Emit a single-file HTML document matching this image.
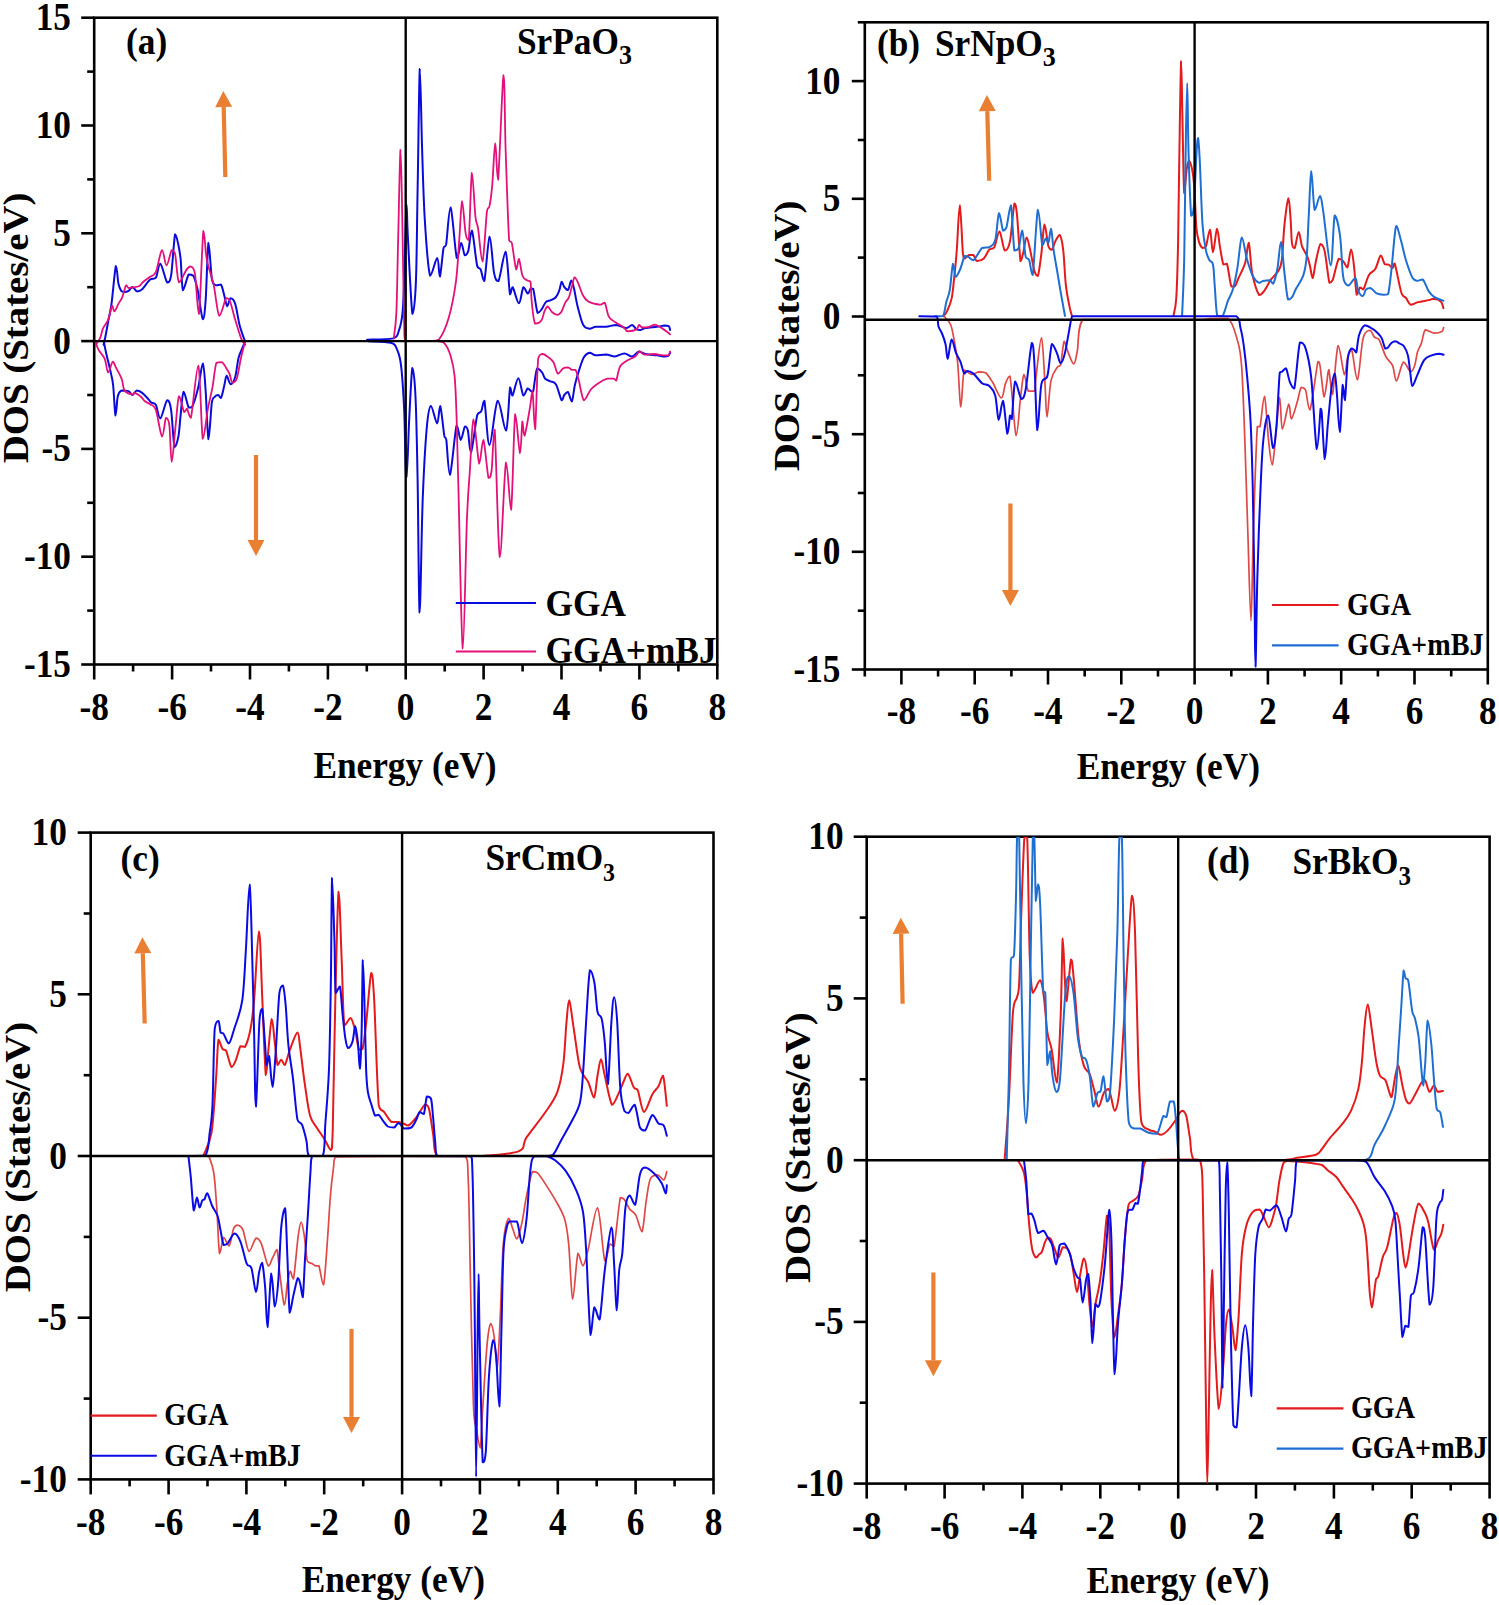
<!DOCTYPE html><html><head><meta charset="utf-8"><style>html,body{margin:0;padding:0;background:#fff;}svg{display:block;}text{font-family:"Liberation Serif",serif;font-weight:bold;fill:#000;}</style></head><body>
<svg width="1499" height="1605" viewBox="0 0 1499 1605">
<rect width="1499" height="1605" fill="#fff"/>
<rect x="94.2" y="17.7" width="623.1" height="646.8" fill="none" stroke="#000" stroke-width="2.60"/>
<line x1="94.2" y1="664.5" x2="94.2" y2="679.5" stroke="#000" stroke-width="2.60"/>
<line x1="172.1" y1="664.5" x2="172.1" y2="679.5" stroke="#000" stroke-width="2.60"/>
<line x1="250.0" y1="664.5" x2="250.0" y2="679.5" stroke="#000" stroke-width="2.60"/>
<line x1="327.9" y1="664.5" x2="327.9" y2="679.5" stroke="#000" stroke-width="2.60"/>
<line x1="405.7" y1="664.5" x2="405.7" y2="679.5" stroke="#000" stroke-width="2.60"/>
<line x1="483.6" y1="664.5" x2="483.6" y2="679.5" stroke="#000" stroke-width="2.60"/>
<line x1="561.5" y1="664.5" x2="561.5" y2="679.5" stroke="#000" stroke-width="2.60"/>
<line x1="639.4" y1="664.5" x2="639.4" y2="679.5" stroke="#000" stroke-width="2.60"/>
<line x1="717.3" y1="664.5" x2="717.3" y2="679.5" stroke="#000" stroke-width="2.60"/>
<line x1="133.1" y1="664.5" x2="133.1" y2="671.5" stroke="#000" stroke-width="2.60"/>
<line x1="211.0" y1="664.5" x2="211.0" y2="671.5" stroke="#000" stroke-width="2.60"/>
<line x1="288.9" y1="664.5" x2="288.9" y2="671.5" stroke="#000" stroke-width="2.60"/>
<line x1="366.8" y1="664.5" x2="366.8" y2="671.5" stroke="#000" stroke-width="2.60"/>
<line x1="444.7" y1="664.5" x2="444.7" y2="671.5" stroke="#000" stroke-width="2.60"/>
<line x1="522.6" y1="664.5" x2="522.6" y2="671.5" stroke="#000" stroke-width="2.60"/>
<line x1="600.5" y1="664.5" x2="600.5" y2="671.5" stroke="#000" stroke-width="2.60"/>
<line x1="678.4" y1="664.5" x2="678.4" y2="671.5" stroke="#000" stroke-width="2.60"/>
<line x1="81.2" y1="664.5" x2="94.2" y2="664.5" stroke="#000" stroke-width="2.60"/>
<line x1="81.2" y1="556.7" x2="94.2" y2="556.7" stroke="#000" stroke-width="2.60"/>
<line x1="81.2" y1="448.9" x2="94.2" y2="448.9" stroke="#000" stroke-width="2.60"/>
<line x1="81.2" y1="341.1" x2="94.2" y2="341.1" stroke="#000" stroke-width="2.60"/>
<line x1="81.2" y1="233.3" x2="94.2" y2="233.3" stroke="#000" stroke-width="2.60"/>
<line x1="81.2" y1="125.5" x2="94.2" y2="125.5" stroke="#000" stroke-width="2.60"/>
<line x1="81.2" y1="17.7" x2="94.2" y2="17.7" stroke="#000" stroke-width="2.60"/>
<line x1="87.2" y1="610.6" x2="94.2" y2="610.6" stroke="#000" stroke-width="2.60"/>
<line x1="87.2" y1="502.8" x2="94.2" y2="502.8" stroke="#000" stroke-width="2.60"/>
<line x1="87.2" y1="395.0" x2="94.2" y2="395.0" stroke="#000" stroke-width="2.60"/>
<line x1="87.2" y1="287.2" x2="94.2" y2="287.2" stroke="#000" stroke-width="2.60"/>
<line x1="87.2" y1="179.4" x2="94.2" y2="179.4" stroke="#000" stroke-width="2.60"/>
<line x1="87.2" y1="71.6" x2="94.2" y2="71.6" stroke="#000" stroke-width="2.60"/>
<text x="94.2" y="0" transform="translate(0,719.5) scale(1,1.160)" text-anchor="middle" font-size="35.3" >-8</text>
<text x="172.1" y="0" transform="translate(0,719.5) scale(1,1.160)" text-anchor="middle" font-size="35.3" >-6</text>
<text x="250.0" y="0" transform="translate(0,719.5) scale(1,1.160)" text-anchor="middle" font-size="35.3" >-4</text>
<text x="327.9" y="0" transform="translate(0,719.5) scale(1,1.160)" text-anchor="middle" font-size="35.3" >-2</text>
<text x="405.7" y="0" transform="translate(0,719.5) scale(1,1.160)" text-anchor="middle" font-size="35.3" >0</text>
<text x="483.6" y="0" transform="translate(0,719.5) scale(1,1.160)" text-anchor="middle" font-size="35.3" >2</text>
<text x="561.5" y="0" transform="translate(0,719.5) scale(1,1.160)" text-anchor="middle" font-size="35.3" >4</text>
<text x="639.4" y="0" transform="translate(0,719.5) scale(1,1.160)" text-anchor="middle" font-size="35.3" >6</text>
<text x="717.3" y="0" transform="translate(0,719.5) scale(1,1.160)" text-anchor="middle" font-size="35.3" >8</text>
<text x="71.0" y="0" transform="translate(0,677.0) scale(1,1.160)" text-anchor="end" font-size="35.3" >-15</text>
<text x="71.0" y="0" transform="translate(0,569.2) scale(1,1.160)" text-anchor="end" font-size="35.3" >-10</text>
<text x="71.0" y="0" transform="translate(0,461.4) scale(1,1.160)" text-anchor="end" font-size="35.3" >-5</text>
<text x="71.0" y="0" transform="translate(0,353.6) scale(1,1.160)" text-anchor="end" font-size="35.3" >0</text>
<text x="71.0" y="0" transform="translate(0,245.8) scale(1,1.160)" text-anchor="end" font-size="35.3" >5</text>
<text x="71.0" y="0" transform="translate(0,138.0) scale(1,1.160)" text-anchor="end" font-size="35.3" >10</text>
<text x="71.0" y="0" transform="translate(0,30.2) scale(1,1.160)" text-anchor="end" font-size="35.3" >15</text>
<text x="405.0" y="0" transform="translate(0,777.6) scale(1,1.080)" text-anchor="middle" font-size="35.3" >Energy (eV)</text>
<g transform="translate(27.8,327.9)  rotate(-90)"><text x="0" y="0" transform="scale(1.100,1)" text-anchor="middle" font-size="35.3">DOS (States/eV)</text></g>
<path d="M103.6,344.7 C103.8,343.9 104.0,344.0 104.7,340.2 C105.5,336.4 107.0,328.1 108.1,322.0 C109.2,315.9 110.2,313.2 111.5,303.9 C112.8,294.5 114.8,269.3 115.9,265.9 C117.1,265.9 117.5,279.3 118.4,283.5 C119.3,287.7 120.3,289.5 121.2,290.9 C122.1,292.0 122.8,292.0 124.0,292.0 C125.2,292.0 127.2,291.8 128.6,290.9 C130.0,290.0 131.1,286.9 132.5,286.9 C133.9,287.0 135.5,291.0 137.1,291.4 C138.7,291.4 140.0,291.2 142.2,289.2 C144.4,287.2 147.8,281.4 150.1,279.5 C152.4,277.8 154.1,279.5 155.8,277.8 C157.5,275.2 158.4,263.7 160.3,263.7 C162.2,264.5 165.3,280.4 167.1,282.4 C168.9,282.4 169.8,282.4 171.1,275.6 C172.4,267.6 173.9,239.2 175.1,234.2 C176.3,234.2 177.6,241.2 178.5,245.5 C179.4,249.8 179.9,252.2 180.7,259.7 C181.4,267.2 181.7,287.9 183.0,290.3 C184.3,290.3 187.0,276.8 188.7,274.4 C190.4,274.4 191.7,274.4 193.2,275.6 C194.7,278.2 196.1,283.0 197.7,290.3 C199.3,297.6 201.5,317.7 202.8,319.2 C204.1,319.2 204.8,312.1 205.7,299.4 C206.6,286.6 207.5,246.1 208.5,242.7 C209.5,242.7 210.7,271.9 211.9,279.0 C213.1,285.2 214.4,284.3 215.9,285.2 C217.4,285.2 219.6,284.6 221.0,284.6 C222.4,286.4 223.4,292.4 224.4,296.0 C225.4,299.6 226.2,305.8 227.2,306.2 C228.2,306.2 229.3,298.6 230.6,298.2 C231.9,298.2 233.7,299.3 235.2,303.9 C236.7,308.4 238.1,319.4 239.7,325.5 C241.3,331.6 243.9,338.2 244.8,340.8 C245.4,341.1 245.3,341.1 245.4,341.1" fill="none" stroke="#0A0ADC" stroke-width="2.00" stroke-linejoin="round" stroke-linecap="round"/>
<path d="M103.6,340.7 C104.0,342.6 104.7,346.5 105.9,352.0 C107.1,357.5 109.8,367.9 111.0,373.6 C112.2,379.3 112.5,379.0 113.2,386.0 C114.0,393.0 114.7,413.8 115.5,415.5 C116.3,415.5 116.8,400.3 117.8,396.2 C118.8,392.1 119.4,391.5 121.2,390.6 C123.0,390.6 126.7,390.6 128.6,391.1 C130.5,391.9 131.2,395.1 132.5,395.1 C133.8,395.0 134.9,391.0 136.5,390.6 C138.1,390.6 140.3,391.5 142.2,392.8 C144.1,394.1 146.3,396.9 147.8,398.5 C149.3,400.1 149.9,401.5 151.2,402.5 C152.5,403.5 154.3,402.5 155.8,404.7 C157.3,407.3 158.4,418.4 160.3,418.4 C162.2,417.6 165.3,401.6 167.1,400.2 C168.9,400.2 169.9,401.9 171.1,409.8 C172.3,417.7 173.3,443.0 174.5,447.3 C175.7,447.3 177.5,441.4 178.5,435.9 C179.5,430.4 179.8,421.8 180.7,414.4 C181.5,407.0 182.3,392.8 183.6,391.7 C184.9,391.7 187.3,405.1 188.7,407.6 C190.1,407.6 190.5,407.6 192.1,407.0 C193.7,403.6 196.5,394.5 198.3,387.2 C200.1,379.9 201.6,363.4 202.8,363.4 C204.0,364.1 204.8,379.0 205.7,391.7 C206.6,404.4 207.5,437.6 208.5,439.3 C209.5,439.3 210.9,409.0 211.9,401.9 C212.9,396.8 213.7,397.9 214.7,396.8 C215.7,395.7 217.0,395.1 218.1,395.1 C219.2,395.3 219.9,397.9 221.0,397.9 C222.1,396.2 223.5,388.6 224.4,384.9 C225.3,381.2 225.7,375.9 226.7,375.8 C227.7,375.8 229.2,384.1 230.6,384.3 C232.0,384.3 233.9,381.4 235.2,377.0 C236.5,372.6 237.3,362.8 238.6,357.7 C239.9,352.6 242.0,349.1 243.1,346.3 C244.2,343.5 245.0,341.6 245.4,340.7" fill="none" stroke="#0A0ADC" stroke-width="2.00" stroke-linejoin="round" stroke-linecap="round"/>
<path d="M367.1,339.7 C371.4,339.5 387.5,339.7 392.8,338.4 C398.1,336.8 397.5,334.3 399.1,329.9 C400.7,325.5 401.7,321.6 402.6,312.1 C403.5,302.6 403.8,291.0 404.4,273.1 C405.0,255.2 405.9,210.6 406.5,204.7 C407.1,204.7 406.9,219.4 407.9,237.6 C408.9,255.8 411.1,306.5 412.4,313.9 C413.7,313.9 415.0,303.5 415.9,281.9 C416.8,260.3 417.0,219.8 417.7,184.3 C418.4,148.8 419.1,74.8 419.8,68.9 C420.5,68.9 421.3,123.7 422.1,148.8 C422.9,174.0 423.5,198.7 424.8,219.8 C426.1,241.0 428.0,269.3 430.1,275.7 C432.2,275.7 435.6,258.0 437.2,258.0 C438.8,258.1 438.8,276.6 439.9,276.6 C440.9,275.0 442.5,253.5 443.5,248.2 C444.5,244.7 444.9,248.2 446.1,244.7 C447.3,237.9 448.8,207.4 450.6,207.4 C452.4,209.6 455.0,252.1 456.8,258.0 C458.6,258.0 459.9,243.3 461.2,242.9 C462.5,242.9 463.6,254.0 464.8,255.3 C466.0,255.3 467.1,255.0 468.3,250.9 C469.5,246.8 470.4,230.5 471.9,230.5 C473.4,233.0 475.7,259.5 477.2,266.0 C478.7,269.5 479.5,267.0 480.7,269.5 C481.9,272.0 482.8,281.1 484.3,281.1 C485.8,275.6 488.0,238.0 489.6,236.7 C491.2,236.7 492.6,265.7 494.1,273.1 C495.6,280.5 496.6,281.1 498.5,281.1 C500.4,277.6 503.7,251.8 505.6,251.8 C507.5,254.0 508.8,288.5 510.0,294.4 C511.2,294.4 511.2,287.3 512.7,287.3 C514.2,288.8 517.1,303.3 518.9,303.3 C520.7,303.3 521.9,288.9 523.4,287.3 C524.9,287.3 526.6,293.2 527.8,293.5 C529.0,293.5 529.7,289.6 530.6,288.8 C531.5,288.8 532.0,288.8 533.2,288.8 C534.4,292.8 536.2,309.4 537.6,312.9 C539.0,312.9 540.0,311.5 541.4,309.7 C542.8,307.9 544.2,303.7 545.8,302.1 C547.4,300.5 549.2,301.1 550.9,300.2 C552.6,299.3 554.6,298.6 556.0,297.0 C557.4,295.4 558.2,293.2 559.2,290.7 C560.2,288.2 560.9,282.4 561.7,281.8 C562.5,281.8 563.2,285.5 564.2,286.9 C565.2,288.3 566.8,290.1 568.0,290.1 C569.2,289.1 570.2,281.1 571.2,280.6 C572.2,280.6 572.7,282.7 573.7,286.9 C574.8,291.1 575.9,299.6 577.5,305.9 C579.1,312.2 581.2,321.1 583.2,324.9 C585.2,328.7 587.5,328.4 589.6,328.7 C591.7,328.7 593.1,327.1 595.9,326.8 C598.6,326.8 602.7,326.8 606.1,326.8 C609.5,326.5 612.8,324.9 616.2,324.9 C619.6,325.1 623.7,328.1 626.3,328.1 C628.9,328.1 630.3,324.9 632.0,324.9 C633.7,325.1 635.1,328.5 636.5,329.4 C637.9,330.0 638.8,330.0 640.3,330.0 C641.8,329.8 642.6,328.6 645.4,328.1 C648.1,327.6 653.6,327.2 656.8,326.8 C660.0,326.4 662.4,325.7 664.4,325.6 C666.4,325.6 667.8,325.6 668.8,326.2 C669.8,326.9 669.9,329.4 670.1,330.0" fill="none" stroke="#0A0ADC" stroke-width="2.00" stroke-linejoin="round" stroke-linecap="round"/>
<path d="M368.2,341.2 C372.0,341.5 386.0,341.4 390.8,342.8 C395.6,344.2 395.3,345.6 397.0,349.4 C398.7,353.2 399.9,355.7 401.1,365.8 C402.3,375.9 403.4,393.5 404.2,410.0 C404.9,426.5 405.2,453.8 405.6,465.0 C406.0,476.2 406.0,477.0 406.4,477.0 C406.8,475.3 407.3,465.0 407.8,455.0 C408.3,445.0 408.5,431.7 409.3,417.2 C410.1,402.7 411.4,371.3 412.4,367.9 C413.4,367.9 414.6,378.2 415.5,396.7 C416.4,415.2 416.9,442.9 417.6,478.9 C418.3,514.9 418.8,609.1 419.6,612.5 C420.5,612.5 421.5,530.3 422.7,499.5 C423.9,468.7 425.4,443.1 426.8,427.5 C428.2,411.9 429.2,406.6 430.9,405.9 C432.6,405.9 435.6,423.4 437.1,423.4 C438.7,423.4 439.0,405.9 440.2,405.9 C441.4,407.9 443.3,430.0 444.3,435.7 C445.3,439.9 445.4,435.7 446.3,439.9 C447.2,446.4 448.3,474.8 450.0,474.8 C451.7,472.4 454.8,431.3 456.6,425.5 C458.4,425.5 459.3,439.7 460.7,439.9 C462.1,439.9 463.7,428.1 464.9,426.5 C466.1,426.5 466.9,426.5 467.9,430.6 C468.9,434.9 469.4,452.2 471.0,452.2 C472.6,449.6 475.5,422.0 477.2,415.2 C478.9,411.1 480.1,413.5 481.3,411.1 C482.5,408.7 483.0,400.8 484.4,400.8 C485.8,406.4 487.3,445.0 489.5,445.0 C491.7,445.0 494.9,403.2 497.7,400.8 C500.4,400.8 503.9,430.6 506.0,430.6 C508.1,428.4 509.0,393.2 510.1,387.4 C511.2,387.4 511.1,395.6 512.5,395.6 C513.9,394.1 516.5,378.2 518.3,378.2 C520.1,378.2 521.8,393.9 523.4,395.6 C525.0,395.6 526.3,389.2 527.6,388.5 C528.9,388.5 530.4,390.9 531.3,391.4 C532.2,391.4 532.2,391.4 533.2,391.4 C534.2,387.6 535.5,371.8 537.0,368.6 C538.5,368.6 540.6,370.7 542.0,372.4 C543.4,374.1 543.8,377.2 545.2,378.7 C546.6,380.2 548.5,380.4 550.3,381.3 C552.1,382.2 554.1,381.3 556.0,384.4 C557.9,387.6 560.3,398.5 561.7,400.3 C563.1,400.3 563.2,396.6 564.2,395.2 C565.2,393.8 566.7,392.0 568.0,392.0 C569.3,393.1 570.6,401.5 571.8,401.5 C573.0,400.2 573.7,389.8 575.0,384.4 C576.3,379.0 577.9,373.7 579.4,369.2 C580.9,364.7 582.2,359.9 583.9,357.2 C585.6,354.4 587.6,353.0 589.6,352.7 C591.6,352.7 593.1,355.0 595.9,355.3 C598.6,355.3 602.9,354.6 606.1,354.6 C609.3,354.8 611.9,356.5 614.9,356.5 C617.9,356.3 621.5,353.4 624.4,353.4 C627.2,353.4 629.6,356.5 632.0,356.5 C634.4,356.2 636.8,351.9 639.0,351.5 C641.2,351.5 642.4,353.4 645.4,354.0 C648.4,354.6 653.6,354.9 656.8,355.3 C660.0,355.7 662.5,356.4 664.4,356.5 C666.3,356.5 667.2,356.5 668.2,355.9 C669.2,355.3 669.8,353.2 670.1,352.7" fill="none" stroke="#0A0ADC" stroke-width="2.00" stroke-linejoin="round" stroke-linecap="round"/>
<path d="M95.7,344.7 C96.5,343.6 99.0,340.6 100.2,337.9 C101.4,335.2 101.7,331.3 103.0,328.3 C104.3,325.3 106.6,323.6 108.1,319.8 C109.6,316.0 111.0,307.0 112.1,305.6 C113.1,305.6 113.4,311.3 114.4,311.3 C115.5,311.0 117.1,306.3 118.4,303.9 C119.7,301.5 121.0,300.2 122.3,297.1 C123.6,294.0 125.0,286.7 126.1,285.2 C127.1,285.2 127.6,287.6 128.6,288.0 C129.6,288.0 130.3,287.8 132.0,287.5 C133.7,287.2 136.9,287.2 138.8,286.3 C140.7,285.4 141.4,283.4 143.3,281.8 C145.2,280.2 148.0,278.3 150.1,276.7 C152.2,275.1 153.8,276.6 155.8,272.2 C157.8,267.8 160.2,251.2 162.0,250.1 C163.8,250.1 164.9,265.4 166.5,265.4 C168.1,265.4 170.3,252.0 171.7,250.1 C173.1,250.1 173.9,250.1 175.1,254.0 C176.3,259.4 177.1,279.8 179.0,282.4 C180.9,282.4 184.5,272.5 186.4,269.9 C188.3,267.2 189.0,266.5 190.4,266.5 C191.8,267.1 193.5,266.5 194.9,273.3 C196.3,281.2 197.5,314.1 198.9,314.1 C200.3,307.0 202.1,239.9 203.4,230.8 C204.7,230.8 205.1,250.7 206.8,259.7 C208.5,268.7 211.5,275.2 213.6,284.6 C215.7,294.0 217.2,313.5 219.3,315.8 C221.4,315.8 224.3,300.6 226.1,298.2 C227.9,298.2 228.6,298.2 230.1,301.7 C231.6,305.3 233.3,313.6 235.2,319.8 C237.1,326.0 239.7,335.0 241.4,339.1 C243.1,343.2 244.7,343.8 245.4,344.7" fill="none" stroke="#E4107A" stroke-width="1.80" stroke-linejoin="round" stroke-linecap="round"/>
<path d="M95.1,340.7 C95.7,342.2 96.9,346.7 98.5,349.7 C100.1,352.7 103.1,355.0 104.7,358.8 C106.3,362.6 106.8,371.9 108.1,372.4 C109.4,372.4 111.4,362.4 112.7,361.7 C114.0,361.7 114.6,365.0 116.1,367.9 C117.6,370.8 120.4,375.4 121.8,379.2 C123.2,383.0 122.8,388.1 124.6,390.6 C126.4,393.2 130.8,394.1 132.5,394.5 C134.2,394.5 133.4,392.8 134.8,392.8 C136.2,393.2 139.3,395.4 141.0,396.8 C142.7,398.2 143.5,400.1 145.0,401.3 C146.5,402.5 148.3,402.8 150.1,404.2 C151.9,405.6 153.8,404.4 155.8,409.8 C157.8,415.2 160.3,435.2 162.0,436.5 C163.7,436.5 164.8,419.6 166.0,417.8 C167.2,417.8 168.5,418.3 169.4,425.7 C170.3,433.1 170.7,462.0 171.7,462.0 C172.7,462.0 174.4,436.7 175.6,425.7 C176.8,414.7 177.6,398.5 179.0,396.2 C180.4,396.2 182.8,410.0 184.1,412.1 C185.4,412.1 185.9,408.7 187.0,408.7 C188.1,409.6 189.0,417.8 190.9,417.8 C192.8,410.6 196.3,365.6 198.3,365.6 C200.3,369.1 201.2,431.6 202.8,438.8 C204.4,438.8 206.3,417.3 207.9,408.7 C209.5,400.1 211.1,394.8 212.5,387.2 C213.9,379.6 214.8,367.0 216.4,362.8 C218.0,362.2 220.5,362.2 222.1,362.2 C223.7,363.0 224.9,366.0 226.1,367.9 C227.3,369.8 228.5,371.2 229.5,373.6 C230.5,376.1 231.1,381.9 232.3,382.6 C233.5,382.6 235.5,382.1 236.9,378.1 C238.3,374.1 239.5,364.7 240.8,358.8 C242.1,352.9 244.1,345.5 244.8,342.9" fill="none" stroke="#E4107A" stroke-width="1.80" stroke-linejoin="round" stroke-linecap="round"/>
<path d="M393.7,338.8 C394.1,334.4 395.6,329.0 396.4,312.1 C397.1,295.2 397.5,264.7 398.2,237.6 C398.9,210.5 399.8,152.7 400.5,149.7 C401.2,149.7 401.7,188.9 402.3,219.8 C402.9,250.7 403.8,315.0 404.4,335.2 C405.0,341.0 404.4,340.0 406.0,341.0 C410.4,341.0 425.5,341.0 431.0,341.0 C436.5,340.8 436.0,341.0 439.0,339.5 C442.0,335.6 446.0,327.1 448.8,317.5 C451.6,307.9 454.1,295.2 455.9,281.9 C457.7,268.6 458.4,251.0 459.4,237.6 C460.4,224.2 461.1,201.9 462.1,201.2 C463.1,201.2 464.5,226.6 465.6,233.1 C466.7,239.6 467.6,240.2 468.7,240.2 C469.8,230.1 470.8,176.8 471.9,172.8 C473.0,172.8 474.4,207.0 475.4,216.3 C476.4,225.6 476.9,221.2 478.1,228.7 C479.3,236.2 481.0,261.5 482.5,261.5 C484.0,258.5 485.8,220.2 487.0,210.9 C488.2,205.6 488.7,210.0 489.6,205.6 C490.5,201.2 491.4,194.7 492.3,184.3 C493.2,174.0 494.3,144.2 495.3,143.5 C496.3,143.5 496.7,179.9 498.1,179.9 C499.5,168.5 502.2,80.3 503.5,75.1 C504.8,75.1 504.7,121.3 505.6,148.8 C506.5,176.3 508.1,224.5 509.1,240.2 C510.1,242.9 510.6,240.2 511.8,242.9 C513.0,247.8 515.0,266.8 516.2,269.5 C517.4,269.5 517.9,258.9 518.9,258.9 C519.9,259.9 521.2,272.1 522.5,275.7 C523.8,279.2 525.7,279.3 526.9,280.2 C528.1,281.1 529.0,280.8 529.6,281.1 C530.2,281.4 530.2,281.1 530.6,281.8 C531.0,285.5 531.1,296.4 531.9,303.4 C532.6,310.4 533.5,320.8 535.1,323.7 C536.7,323.7 539.8,322.6 541.4,320.5 C543.0,318.4 543.5,313.3 544.6,311.0 C545.7,308.7 546.4,306.5 547.7,306.5 C549.0,306.7 550.6,310.9 552.2,312.3 C553.8,313.7 555.8,314.8 557.3,314.8 C558.8,314.8 559.7,314.4 561.1,312.3 C562.5,310.2 564.2,304.5 565.5,302.1 C566.8,299.7 567.7,300.2 568.7,297.7 C569.8,295.2 570.8,290.3 571.8,286.9 C572.8,283.5 573.5,278.0 574.6,277.4 C575.7,277.4 576.8,280.0 578.2,283.1 C579.6,286.2 581.5,292.7 583.2,295.8 C584.9,298.9 586.2,300.1 588.3,301.5 C590.4,302.9 593.8,303.5 595.9,304.0 C598.0,304.5 599.5,304.6 601.0,304.6 C602.5,304.4 603.5,302.7 604.8,302.7 C606.1,304.6 607.1,313.0 608.6,316.1 C610.1,319.2 611.2,319.2 613.7,321.1 C616.2,323.0 621.5,325.8 623.8,327.5 C626.1,329.2 625.5,331.0 627.6,331.3 C629.7,331.3 634.6,330.5 636.5,329.4 C638.4,328.3 638.0,325.2 639.0,324.9 C640.0,324.9 640.5,327.2 642.2,327.5 C643.9,327.5 647.1,327.3 649.2,326.8 C651.3,326.3 652.8,324.7 654.9,324.7 C657.0,324.9 659.9,327.0 661.8,328.1 C663.7,329.2 664.9,330.2 666.3,331.3 C667.7,332.4 669.5,333.9 670.1,334.4" fill="none" stroke="#E4107A" stroke-width="1.80" stroke-linejoin="round" stroke-linecap="round"/>
<path d="M438.1,341.2 C439.1,341.5 442.2,341.2 444.3,343.2 C446.4,345.6 448.8,350.1 450.5,355.6 C452.2,361.1 453.6,365.8 454.6,376.1 C455.6,386.4 455.9,396.6 456.6,417.2 C457.3,437.8 457.7,460.9 458.7,499.5 C459.7,538.0 461.4,645.1 462.8,648.5 C464.2,648.5 465.7,550.0 466.9,520.0 C468.1,490.0 468.9,485.4 470.0,468.6 C471.1,451.8 472.0,420.2 473.5,419.3 C475.0,419.3 477.6,460.1 479.2,463.5 C480.8,463.5 481.8,439.9 483.4,439.9 C484.9,442.3 487.1,472.8 488.5,477.9 C489.9,477.9 490.6,477.9 491.6,470.7 C492.6,462.6 493.3,429.6 494.7,429.6 C496.1,444.0 497.9,551.5 499.8,557.0 C501.7,557.0 504.1,470.4 506.0,462.5 C507.9,462.5 509.6,509.8 511.1,509.8 C512.6,501.8 513.7,423.6 515.2,414.2 C516.7,414.2 518.8,452.0 520.0,453.2 C521.2,453.2 521.6,424.2 522.4,421.3 C523.1,421.3 523.2,435.7 524.5,435.7 C525.8,433.4 528.7,414.7 530.0,407.3 C531.3,399.9 531.6,391.4 532.5,391.4 C533.4,395.1 534.1,429.4 535.1,429.4 C536.1,423.9 536.9,371.1 538.2,358.5 C539.5,354.0 540.9,354.1 542.7,354.0 C544.5,354.0 547.2,356.4 549.0,357.8 C550.8,359.2 552.0,359.7 553.5,362.3 C555.0,364.9 556.3,372.6 557.9,373.7 C559.5,373.7 561.3,369.7 563.0,368.6 C564.7,367.5 566.5,367.3 568.0,367.3 C569.5,367.5 570.5,369.5 571.8,369.9 C573.1,369.9 574.4,369.9 575.6,369.9 C576.8,371.7 577.4,375.5 578.8,380.6 C580.2,385.7 581.9,398.8 583.9,400.3 C585.9,400.3 588.4,392.4 590.8,389.5 C593.2,386.6 595.6,385.0 598.4,383.2 C601.1,381.4 604.8,379.4 607.3,378.7 C609.8,378.7 612.2,378.7 613.7,378.7 C615.2,379.0 615.2,380.6 616.2,380.6 C617.2,378.6 618.3,370.0 620.0,366.7 C621.7,363.4 623.8,362.7 626.3,361.0 C628.8,359.3 633.0,358.1 635.2,356.5 C637.4,354.9 638.0,351.8 639.6,351.5 C641.2,351.5 642.3,354.2 644.7,354.6 C647.1,354.6 651.1,354.0 654.2,354.0 C657.3,354.1 660.8,355.1 663.1,355.3 C665.4,355.3 667.0,355.3 668.2,355.3 C669.4,354.7 669.8,352.1 670.1,351.5" fill="none" stroke="#E4107A" stroke-width="1.80" stroke-linejoin="round" stroke-linecap="round"/>
<line x1="94.2" y1="341.1" x2="717.3" y2="341.1" stroke="#000" stroke-width="2.40"/>
<line x1="405.7" y1="17.7" x2="405.7" y2="664.5" stroke="#000" stroke-width="2.40"/>
<line x1="455.8" y1="603.0" x2="536.0" y2="603.0" stroke="#0A0ADC" stroke-width="2.10"/>
<line x1="455.8" y1="651.5" x2="536.0" y2="651.5" stroke="#E4107A" stroke-width="2.10"/>
<text x="545.5" y="0" transform="translate(0,615.5) scale(1,1.080)" text-anchor="start" font-size="35.3" >GGA</text>
<text x="545.5" y="0" transform="translate(0,663.0) scale(1,1.080)" text-anchor="start" font-size="35.3" >GGA+mBJ</text>
<text x="126.0" y="0" transform="translate(0,54.0) scale(1,1.080)" text-anchor="start" font-size="35.3" >(a)</text>
<text x="517" y="0" transform="translate(0,54) scale(1,1.080)" font-size="35.3">SrPaO<tspan font-size="26" dy="9">3</tspan></text>
<line x1="225.3" y1="177.0" x2="223.7" y2="107.0" stroke="#E97F33" stroke-width="4.20"/>
<polygon points="223.3,91.0 232.2,106.8 215.2,107.2" fill="#E97F33"/>
<line x1="256.0" y1="455.0" x2="256.0" y2="540.0" stroke="#E97F33" stroke-width="4.20"/>
<polygon points="256.0,556.0 247.5,540.0 264.5,540.0" fill="#E97F33"/>
<rect x="864.8" y="22.3" width="623.0" height="647.2" fill="none" stroke="#000" stroke-width="2.60"/>
<line x1="901.4" y1="669.5" x2="901.4" y2="684.5" stroke="#000" stroke-width="2.60"/>
<line x1="974.7" y1="669.5" x2="974.7" y2="684.5" stroke="#000" stroke-width="2.60"/>
<line x1="1048.0" y1="669.5" x2="1048.0" y2="684.5" stroke="#000" stroke-width="2.60"/>
<line x1="1121.3" y1="669.5" x2="1121.3" y2="684.5" stroke="#000" stroke-width="2.60"/>
<line x1="1194.6" y1="669.5" x2="1194.6" y2="684.5" stroke="#000" stroke-width="2.60"/>
<line x1="1267.9" y1="669.5" x2="1267.9" y2="684.5" stroke="#000" stroke-width="2.60"/>
<line x1="1341.2" y1="669.5" x2="1341.2" y2="684.5" stroke="#000" stroke-width="2.60"/>
<line x1="1414.5" y1="669.5" x2="1414.5" y2="684.5" stroke="#000" stroke-width="2.60"/>
<line x1="1487.8" y1="669.5" x2="1487.8" y2="684.5" stroke="#000" stroke-width="2.60"/>
<line x1="864.8" y1="669.5" x2="864.8" y2="676.5" stroke="#000" stroke-width="2.60"/>
<line x1="938.1" y1="669.5" x2="938.1" y2="676.5" stroke="#000" stroke-width="2.60"/>
<line x1="1011.4" y1="669.5" x2="1011.4" y2="676.5" stroke="#000" stroke-width="2.60"/>
<line x1="1084.7" y1="669.5" x2="1084.7" y2="676.5" stroke="#000" stroke-width="2.60"/>
<line x1="1158.0" y1="669.5" x2="1158.0" y2="676.5" stroke="#000" stroke-width="2.60"/>
<line x1="1231.3" y1="669.5" x2="1231.3" y2="676.5" stroke="#000" stroke-width="2.60"/>
<line x1="1304.6" y1="669.5" x2="1304.6" y2="676.5" stroke="#000" stroke-width="2.60"/>
<line x1="1377.9" y1="669.5" x2="1377.9" y2="676.5" stroke="#000" stroke-width="2.60"/>
<line x1="1451.2" y1="669.5" x2="1451.2" y2="676.5" stroke="#000" stroke-width="2.60"/>
<line x1="851.8" y1="669.5" x2="864.8" y2="669.5" stroke="#000" stroke-width="2.60"/>
<line x1="851.8" y1="551.8" x2="864.8" y2="551.8" stroke="#000" stroke-width="2.60"/>
<line x1="851.8" y1="434.2" x2="864.8" y2="434.2" stroke="#000" stroke-width="2.60"/>
<line x1="851.8" y1="316.5" x2="864.8" y2="316.5" stroke="#000" stroke-width="2.60"/>
<line x1="851.8" y1="198.8" x2="864.8" y2="198.8" stroke="#000" stroke-width="2.60"/>
<line x1="851.8" y1="81.1" x2="864.8" y2="81.1" stroke="#000" stroke-width="2.60"/>
<line x1="857.8" y1="610.7" x2="864.8" y2="610.7" stroke="#000" stroke-width="2.60"/>
<line x1="857.8" y1="493.0" x2="864.8" y2="493.0" stroke="#000" stroke-width="2.60"/>
<line x1="857.8" y1="375.3" x2="864.8" y2="375.3" stroke="#000" stroke-width="2.60"/>
<line x1="857.8" y1="257.6" x2="864.8" y2="257.6" stroke="#000" stroke-width="2.60"/>
<line x1="857.8" y1="140.0" x2="864.8" y2="140.0" stroke="#000" stroke-width="2.60"/>
<line x1="857.8" y1="22.3" x2="864.8" y2="22.3" stroke="#000" stroke-width="2.60"/>
<text x="901.4" y="0" transform="translate(0,724.0) scale(1,1.160)" text-anchor="middle" font-size="35.3" >-8</text>
<text x="974.7" y="0" transform="translate(0,724.0) scale(1,1.160)" text-anchor="middle" font-size="35.3" >-6</text>
<text x="1048.0" y="0" transform="translate(0,724.0) scale(1,1.160)" text-anchor="middle" font-size="35.3" >-4</text>
<text x="1121.3" y="0" transform="translate(0,724.0) scale(1,1.160)" text-anchor="middle" font-size="35.3" >-2</text>
<text x="1194.6" y="0" transform="translate(0,724.0) scale(1,1.160)" text-anchor="middle" font-size="35.3" >0</text>
<text x="1267.9" y="0" transform="translate(0,724.0) scale(1,1.160)" text-anchor="middle" font-size="35.3" >2</text>
<text x="1341.2" y="0" transform="translate(0,724.0) scale(1,1.160)" text-anchor="middle" font-size="35.3" >4</text>
<text x="1414.5" y="0" transform="translate(0,724.0) scale(1,1.160)" text-anchor="middle" font-size="35.3" >6</text>
<text x="1487.8" y="0" transform="translate(0,724.0) scale(1,1.160)" text-anchor="middle" font-size="35.3" >8</text>
<text x="840.5" y="0" transform="translate(0,682.0) scale(1,1.160)" text-anchor="end" font-size="35.3" >-15</text>
<text x="840.5" y="0" transform="translate(0,564.3) scale(1,1.160)" text-anchor="end" font-size="35.3" >-10</text>
<text x="840.5" y="0" transform="translate(0,446.7) scale(1,1.160)" text-anchor="end" font-size="35.3" >-5</text>
<text x="840.5" y="0" transform="translate(0,329.0) scale(1,1.160)" text-anchor="end" font-size="35.3" >0</text>
<text x="840.5" y="0" transform="translate(0,211.3) scale(1,1.160)" text-anchor="end" font-size="35.3" >5</text>
<text x="840.5" y="0" transform="translate(0,93.6) scale(1,1.160)" text-anchor="end" font-size="35.3" >10</text>
<text x="1168.3" y="0" transform="translate(0,778.6) scale(1,1.080)" text-anchor="middle" font-size="35.3" >Energy (eV)</text>
<g transform="translate(798.6,335.9)  rotate(-90)"><text x="0" y="0" transform="scale(1.100,1)" text-anchor="middle" font-size="35.3">DOS (States/eV)</text></g>
<path d="M943.5,316.4 C943.8,316.6 944.3,316.4 945.5,317.8 C946.7,319.2 949.2,321.0 950.7,324.8 C952.2,328.6 953.0,334.1 954.2,340.5 C955.4,346.9 956.6,352.1 957.7,363.2 C958.8,374.2 959.7,405.6 960.8,406.8 C961.9,406.8 962.5,375.5 964.3,370.1 C966.1,370.1 969.2,374.2 971.6,374.5 C974.0,374.5 976.3,372.2 978.6,371.9 C980.9,371.9 983.3,371.9 985.6,372.7 C987.9,374.4 990.0,378.1 992.6,382.3 C995.2,386.5 999.1,397.9 1001.3,398.0 C1003.5,398.0 1004.1,386.8 1005.6,383.2 C1007.1,379.6 1008.2,376.2 1010.0,376.2 C1011.8,384.9 1014.4,431.9 1016.1,435.5 C1017.9,435.5 1019.2,408.2 1020.5,398.0 C1021.8,387.8 1022.7,375.6 1024.0,374.5 C1025.3,374.5 1026.6,388.3 1028.3,391.1 C1030.0,391.1 1033.1,391.1 1034.4,391.1 C1035.7,388.5 1035.0,384.3 1036.2,375.4 C1037.4,366.5 1040.0,337.9 1041.4,337.9 C1042.9,339.0 1044.0,369.1 1044.9,382.3 C1045.8,395.5 1046.0,416.9 1047.0,416.9 C1048.0,416.6 1049.3,388.8 1051.0,380.6 C1052.7,372.4 1055.5,370.1 1057.1,367.5 C1058.7,364.9 1059.4,367.5 1060.6,364.9 C1061.8,360.5 1062.9,343.6 1064.1,341.3 C1065.3,341.3 1066.0,347.1 1067.6,350.9 C1069.2,354.7 1072.1,363.9 1073.7,364.0 C1075.3,364.0 1075.6,359.2 1077.2,351.8 C1078.8,344.4 1077.2,324.9 1083.3,319.5 C1102.9,319.5 1173.9,319.7 1195.0,319.7 C1210.0,319.6 1204.5,318.8 1210.0,318.6 C1215.5,318.4 1223.6,318.4 1228.1,318.4 C1232.6,321.8 1234.8,331.2 1237.1,339.2 C1239.3,347.1 1240.3,348.5 1241.6,366.1 C1242.9,383.7 1244.0,416.6 1245.0,444.6 C1246.0,472.7 1246.9,505.0 1247.9,534.4 C1248.9,563.8 1250.1,620.7 1251.0,620.7 C1251.9,620.7 1252.2,566.7 1253.3,534.4 C1254.3,502.1 1256.2,444.6 1257.3,426.7 C1258.4,426.7 1258.8,426.7 1260.0,426.7 C1261.2,421.6 1263.1,396.4 1264.5,396.4 C1265.9,398.6 1267.2,428.7 1268.5,440.1 C1269.8,451.5 1271.0,464.8 1272.3,464.8 C1273.6,462.9 1275.2,440.1 1276.4,428.9 C1277.6,417.7 1278.7,397.5 1279.7,397.5 C1280.7,397.5 1280.9,427.8 1282.4,428.9 C1283.9,428.9 1287.2,405.9 1288.7,404.2 C1290.2,404.2 1290.0,418.8 1291.4,418.8 C1292.8,418.4 1295.6,407.2 1297.2,402.0 C1298.8,396.8 1299.7,389.4 1301.1,387.4 C1302.5,387.4 1304.0,387.4 1305.5,389.7 C1307.0,393.4 1307.9,409.8 1310.0,409.8 C1312.1,405.1 1316.2,369.0 1317.9,361.6 C1319.6,361.6 1319.0,361.6 1320.0,365.6 C1321.0,371.5 1322.9,394.0 1324.0,396.8 C1325.1,396.8 1326.0,387.2 1326.8,382.6 C1327.6,378.1 1327.8,369.5 1328.8,369.5 C1329.8,371.5 1331.0,394.5 1332.5,394.5 C1334.0,390.5 1336.1,349.0 1338.1,345.7 C1340.1,345.7 1342.8,372.8 1344.4,374.6 C1346.0,374.6 1346.6,360.6 1347.8,356.5 C1349.0,352.4 1350.2,350.3 1351.8,350.3 C1353.4,354.2 1355.5,379.7 1357.4,379.7 C1359.3,377.7 1361.0,346.6 1363.1,338.4 C1365.2,330.4 1368.0,330.6 1369.9,330.4 C1371.8,330.4 1372.9,335.7 1374.4,337.2 C1375.9,338.7 1377.1,337.2 1379.0,339.5 C1380.9,342.7 1383.5,352.1 1385.8,356.5 C1388.1,360.9 1390.8,361.5 1392.6,365.6 C1394.4,369.7 1394.7,380.9 1396.5,380.9 C1398.3,380.3 1401.0,363.7 1403.4,362.2 C1405.8,362.2 1408.8,371.2 1410.7,371.8 C1412.6,371.8 1413.6,368.9 1414.7,365.6 C1415.8,362.3 1416.4,355.8 1417.5,352.0 C1418.6,348.2 1420.2,346.6 1421.5,342.9 C1422.8,339.2 1423.3,331.4 1425.5,329.8 C1427.7,329.8 1431.8,332.9 1434.5,333.2 C1437.2,333.2 1440.4,332.4 1441.9,331.5 C1443.4,330.6 1443.3,328.2 1443.6,327.6" fill="none" stroke="#E04848" stroke-width="1.70" stroke-linejoin="round" stroke-linecap="round"/>
<path d="M943.7,316.0 C944.3,315.1 945.9,313.7 947.2,310.8 C948.5,307.9 950.4,304.1 951.6,298.6 C952.8,293.1 953.3,285.8 954.2,277.7 C955.1,269.6 955.9,261.9 956.8,249.8 C957.7,237.7 958.8,205.3 959.8,205.3 C960.8,205.9 962.1,244.4 962.9,253.3 C963.7,258.5 963.7,258.2 964.7,258.5 C965.7,258.5 967.5,255.6 969.0,255.0 C970.5,255.0 972.1,255.0 973.4,255.0 C974.7,256.0 975.2,260.5 976.9,261.1 C978.6,261.1 981.8,260.4 983.8,258.5 C985.8,256.6 987.4,251.7 989.1,249.8 C990.9,247.9 992.6,249.8 994.3,247.2 C996.0,244.1 997.8,231.5 999.5,231.5 C1001.2,232.1 1003.0,249.0 1004.8,250.6 C1006.5,250.6 1008.4,248.9 1010.0,241.1 C1011.6,233.2 1013.2,207.9 1014.4,203.5 C1015.6,203.5 1016.0,205.3 1017.0,214.9 C1018.0,224.5 1019.5,254.7 1020.5,261.1 C1021.5,261.1 1022.1,257.2 1023.1,253.3 C1024.1,249.4 1025.4,238.2 1026.6,237.6 C1027.8,237.6 1028.8,244.3 1030.1,249.8 C1031.4,255.3 1033.1,266.4 1034.4,270.7 C1035.7,275.0 1036.7,275.9 1037.9,275.9 C1039.1,273.0 1040.3,261.9 1041.4,253.3 C1042.5,244.7 1043.3,225.7 1044.5,224.5 C1045.7,224.5 1047.2,242.1 1048.4,246.3 C1049.6,249.8 1050.7,249.8 1051.9,249.8 C1053.1,248.9 1054.1,243.6 1055.4,241.1 C1056.7,238.6 1058.4,234.9 1059.7,234.9 C1061.0,236.4 1062.2,241.5 1063.2,249.8 C1064.2,258.1 1064.8,275.4 1065.8,284.7 C1066.8,294.0 1068.3,300.4 1069.3,305.6 C1070.3,310.8 1071.5,314.3 1071.9,316.0" fill="none" stroke="#E41A1C" stroke-width="2.00" stroke-linejoin="round" stroke-linecap="round"/>
<path d="M1173.4,316.0 C1173.9,312.9 1175.5,310.1 1176.3,297.7 C1177.1,285.3 1177.6,265.2 1178.1,241.9 C1178.6,218.6 1178.8,188.2 1179.3,158.1 C1179.8,128.0 1180.6,68.3 1181.1,61.3 C1181.6,61.3 1181.9,94.3 1182.4,116.3 C1182.9,138.2 1183.5,184.3 1184.2,193.0 C1184.9,193.0 1186.0,174.0 1186.8,168.6 C1187.6,163.2 1188.1,160.8 1189.1,160.8 C1190.1,161.7 1192.0,168.1 1192.9,173.8 C1193.8,179.5 1194.1,185.8 1194.7,194.8 C1195.3,203.8 1195.7,220.1 1196.4,227.9 C1197.1,235.8 1198.0,238.6 1199.0,241.9 C1200.0,245.2 1201.3,247.3 1202.5,248.0 C1203.7,248.0 1204.8,248.0 1206.0,246.2 C1207.2,243.1 1208.8,229.7 1210.0,229.7 C1211.2,230.7 1211.8,252.3 1213.0,252.3 C1214.2,252.2 1215.8,229.7 1217.0,228.8 C1218.2,228.8 1218.9,241.2 1220.0,247.1 C1221.1,253.0 1222.2,261.7 1223.4,264.5 C1224.6,264.5 1225.6,263.7 1226.9,263.7 C1228.2,267.3 1230.0,282.6 1231.3,286.4 C1232.6,286.4 1233.6,286.4 1234.8,286.4 C1236.0,285.1 1236.6,282.4 1238.3,278.5 C1240.0,274.6 1243.5,268.8 1245.2,262.8 C1246.9,256.8 1247.5,242.7 1248.7,242.7 C1249.9,244.4 1250.5,264.6 1252.2,273.3 C1254.0,282.0 1257.2,292.2 1259.2,295.1 C1261.2,295.1 1262.5,293.2 1264.4,290.7 C1266.3,288.2 1268.2,283.5 1270.5,280.2 C1272.8,276.9 1276.5,274.2 1278.4,270.7 C1280.3,267.2 1280.9,267.0 1281.9,259.3 C1282.9,251.6 1283.4,234.6 1284.5,224.4 C1285.6,214.2 1287.5,199.2 1288.5,198.3 C1289.5,198.3 1290.0,211.7 1290.6,219.2 C1291.2,226.7 1291.3,238.6 1292.0,243.4 C1292.7,248.1 1293.6,248.1 1294.7,248.1 C1295.8,246.2 1297.5,232.4 1298.7,232.1 C1299.9,232.1 1300.6,242.0 1302.0,246.1 C1303.4,250.2 1306.0,253.4 1307.3,256.7 C1308.6,260.0 1309.1,262.5 1310.0,266.1 C1310.9,269.7 1311.7,278.1 1312.7,278.1 C1313.7,277.2 1314.7,266.4 1316.0,260.7 C1317.3,255.0 1319.0,245.6 1320.4,244.1 C1321.9,244.1 1323.2,244.9 1324.7,251.4 C1326.2,257.9 1328.1,278.0 1329.4,282.8 C1330.7,282.8 1331.2,282.8 1332.7,280.1 C1334.2,276.1 1336.9,261.8 1338.7,258.7 C1340.5,258.7 1342.0,259.9 1343.4,261.4 C1344.9,262.8 1346.1,267.4 1347.4,267.4 C1348.7,265.4 1350.0,249.6 1351.1,249.4 C1352.2,249.4 1353.1,258.5 1354.0,266.1 C1354.9,273.7 1355.7,291.2 1356.7,294.8 C1357.7,294.8 1358.9,288.3 1360.0,287.4 C1361.1,287.4 1362.0,289.4 1363.4,289.4 C1364.9,287.4 1366.7,278.8 1368.7,275.4 C1370.7,271.9 1373.4,272.0 1375.4,268.7 C1377.4,265.4 1379.2,256.2 1380.7,255.4 C1382.2,255.4 1383.4,262.6 1384.7,264.1 C1386.0,264.7 1387.4,264.1 1388.7,264.7 C1390.0,265.4 1391.7,268.1 1392.7,268.1 C1393.7,267.9 1393.2,263.4 1394.7,263.4 C1396.2,267.5 1399.5,287.0 1401.4,292.8 C1403.3,298.1 1404.5,296.1 1406.1,298.1 C1407.6,300.1 1408.7,304.1 1410.7,304.8 C1412.7,304.8 1415.1,302.9 1418.1,302.1 C1421.1,301.3 1426.2,300.7 1428.8,300.1 C1431.3,299.6 1431.4,298.8 1433.4,298.8 C1435.4,299.0 1439.1,299.8 1440.8,301.4 C1442.5,302.9 1443.0,307.0 1443.4,308.1" fill="none" stroke="#E41A1C" stroke-width="2.00" stroke-linejoin="round" stroke-linecap="round"/>
<path d="M935.0,316.2 C936.3,316.2 941.0,316.2 942.9,316.0 C944.8,313.6 945.1,306.5 946.3,302.1 C947.4,297.8 948.7,296.3 949.8,289.9 C950.9,283.5 952.0,265.9 953.0,263.7 C954.0,263.7 954.4,275.9 955.6,276.8 C956.8,276.8 958.8,272.5 960.3,269.0 C961.8,265.5 963.4,257.9 964.7,255.9 C966.0,255.9 966.7,256.0 968.1,256.7 C969.5,257.4 971.1,260.2 973.4,260.2 C975.7,258.8 979.5,250.2 982.1,248.0 C984.7,247.2 986.9,248.0 989.1,247.2 C991.3,245.9 993.6,245.9 995.2,240.2 C996.9,234.5 997.7,214.7 999.0,213.1 C1000.3,213.1 1001.8,228.3 1003.0,230.6 C1004.2,230.6 1005.2,230.6 1006.5,227.1 C1007.8,222.9 1009.6,205.3 1010.9,205.3 C1012.2,209.2 1013.1,243.5 1014.4,250.6 C1015.7,250.6 1017.4,250.6 1018.7,248.0 C1020.0,244.7 1021.0,230.6 1022.2,230.6 C1023.4,232.0 1024.5,251.8 1025.7,256.7 C1026.9,260.2 1028.0,257.1 1029.2,260.2 C1030.4,263.3 1031.2,275.1 1032.7,275.1 C1034.2,266.7 1036.3,214.6 1037.9,209.7 C1039.5,209.7 1041.0,240.6 1042.3,245.4 C1043.6,245.4 1044.8,238.8 1045.8,238.4 C1046.8,238.4 1047.5,242.8 1048.4,242.8 C1049.3,241.2 1050.1,228.8 1051.0,228.8 C1051.9,230.0 1052.6,242.8 1053.6,249.8 C1054.6,256.8 1055.9,263.7 1057.1,270.7 C1058.3,277.7 1059.3,284.1 1060.6,291.6 C1061.9,299.2 1064.3,311.9 1065.0,316.0" fill="none" stroke="#1F6FD2" stroke-width="2.00" stroke-linejoin="round" stroke-linecap="round"/>
<path d="M1182.1,316.0 C1182.4,306.6 1183.6,286.2 1184.2,259.3 C1184.8,232.4 1185.1,184.1 1185.6,154.7 C1186.1,125.3 1186.7,83.1 1187.2,83.1 C1187.7,83.1 1187.9,132.6 1188.6,154.7 C1189.3,176.8 1190.3,207.0 1191.2,215.7 C1192.1,215.7 1192.9,215.7 1193.8,207.0 C1194.7,196.8 1195.7,166.2 1196.4,154.7 C1197.1,143.2 1197.5,138.1 1198.1,138.1 C1198.7,139.6 1199.2,149.0 1199.9,163.4 C1200.6,177.8 1201.5,209.9 1202.5,224.4 C1203.5,238.9 1204.8,244.6 1206.0,250.6 C1207.2,256.6 1208.3,257.9 1209.5,260.2 C1210.7,262.5 1212.1,260.3 1213.0,264.5 C1213.9,268.7 1214.0,276.9 1214.7,285.5 C1215.4,294.1 1216.0,310.9 1217.3,316.0 C1218.6,316.0 1220.8,316.0 1222.6,316.0 C1224.3,313.5 1226.1,305.7 1227.8,301.2 C1229.5,296.7 1231.4,294.5 1233.0,289.0 C1234.6,283.5 1235.9,276.6 1237.4,268.0 C1238.9,259.4 1240.2,238.9 1241.8,237.5 C1243.4,237.5 1245.1,252.8 1247.0,259.3 C1248.9,265.9 1251.1,272.9 1253.1,276.8 C1255.1,280.7 1257.6,282.2 1259.2,282.9 C1260.8,282.9 1261.0,281.6 1262.7,281.1 C1264.5,280.7 1268.0,280.2 1269.7,280.2 C1271.5,280.6 1271.9,283.7 1273.2,283.7 C1274.5,281.7 1276.2,275.0 1277.5,268.0 C1278.8,261.0 1279.8,241.9 1281.0,241.9 C1282.2,242.8 1283.3,263.7 1284.5,273.3 C1285.7,282.9 1286.7,295.5 1288.0,299.4 C1289.3,299.4 1291.0,298.6 1292.3,296.8 C1293.6,295.0 1294.2,292.4 1296.0,288.8 C1297.8,285.2 1301.5,280.8 1303.3,275.4 C1305.1,270.0 1305.8,266.5 1306.7,256.7 C1307.6,246.9 1307.9,230.9 1308.7,216.7 C1309.5,202.5 1310.3,172.4 1311.3,171.3 C1312.3,171.3 1313.2,205.9 1314.7,210.0 C1316.2,210.0 1318.5,196.0 1320.0,196.0 C1321.5,196.4 1321.6,201.1 1323.4,212.7 C1325.2,224.3 1328.8,264.9 1330.7,265.4 C1332.6,265.4 1333.2,220.4 1334.7,215.4 C1336.2,215.4 1338.7,225.9 1340.0,235.4 C1341.3,244.9 1341.9,264.9 1342.7,272.7 C1343.5,280.5 1343.7,280.0 1344.7,282.1 C1345.7,284.2 1346.9,285.4 1348.7,285.4 C1350.5,284.7 1353.9,278.1 1355.4,278.1 C1357.0,278.9 1356.8,287.1 1358.0,290.1 C1359.2,293.1 1361.4,296.1 1362.7,296.1 C1364.0,296.0 1364.8,290.7 1366.1,289.4 C1367.4,288.1 1368.9,288.1 1370.7,288.1 C1372.5,288.8 1374.6,292.3 1376.7,293.4 C1378.8,294.5 1381.5,294.7 1383.4,294.8 C1385.3,294.8 1386.8,294.8 1388.1,294.1 C1389.4,290.0 1390.3,279.9 1391.4,270.1 C1392.5,260.3 1393.8,242.7 1394.7,235.4 C1395.6,228.1 1395.6,226.1 1396.7,226.1 C1397.8,227.2 1399.8,236.3 1401.4,242.1 C1403.0,247.9 1404.2,254.7 1406.1,260.7 C1408.0,266.7 1410.8,274.8 1412.7,278.1 C1414.6,280.8 1415.7,280.6 1417.4,280.8 C1419.1,280.8 1420.9,279.4 1422.8,279.4 C1424.7,281.2 1426.9,288.5 1428.8,291.4 C1430.7,294.3 1431.7,295.2 1434.1,296.8 C1436.5,298.4 1441.9,300.1 1443.4,300.8" fill="none" stroke="#1F6FD2" stroke-width="2.00" stroke-linejoin="round" stroke-linecap="round"/>
<path d="M919.3,316.2 C922.2,316.2 933.5,316.2 936.7,316.5 C938.5,318.2 937.6,323.7 938.5,326.5 C939.4,329.3 940.8,330.6 942.0,333.5 C943.2,336.4 944.5,339.8 945.5,344.0 C946.5,348.2 946.7,358.8 947.7,358.8 C948.7,358.1 950.2,340.6 951.6,339.6 C953.0,339.6 954.5,349.1 955.9,352.7 C957.3,356.3 958.9,357.9 960.3,361.4 C961.7,364.9 963.1,372.0 964.3,373.6 C965.5,373.6 965.8,371.0 967.3,371.0 C968.8,371.0 970.9,371.6 973.4,373.6 C975.9,375.6 979.5,381.2 982.1,383.2 C984.7,385.2 986.9,383.8 989.1,385.8 C991.3,387.8 993.6,389.7 995.2,395.4 C996.8,401.1 997.4,418.9 998.7,419.8 C1000.0,419.8 1001.5,400.7 1003.0,400.7 C1004.5,403.0 1006.2,431.3 1007.4,433.8 C1008.6,433.8 1009.3,418.0 1010.0,415.5 C1010.7,415.5 1010.9,419.0 1011.8,419.0 C1012.7,413.3 1013.6,384.9 1015.2,381.5 C1016.8,381.5 1019.5,397.6 1021.3,398.9 C1023.0,398.9 1024.0,398.6 1025.7,389.3 C1027.5,380.0 1030.3,347.5 1031.8,343.1 C1033.2,343.1 1033.5,348.7 1034.4,363.2 C1035.3,377.7 1036.2,426.8 1037.4,430.3 C1038.6,430.3 1039.7,393.2 1041.4,384.1 C1043.1,375.4 1045.8,382.1 1047.5,375.4 C1049.2,368.7 1050.3,347.6 1051.9,344.0 C1053.5,344.0 1055.6,350.4 1057.1,353.6 C1058.5,356.8 1059.3,363.2 1060.6,363.2 C1061.9,363.0 1063.2,360.0 1065.0,352.7 C1066.8,345.4 1069.8,325.6 1071.1,319.5 C1072.4,316.2 1071.1,316.8 1073.0,316.2 C1100.5,316.2 1208.1,316.2 1236.0,316.2 C1240.5,318.2 1239.2,323.1 1240.5,328.0 C1241.8,332.9 1242.7,337.7 1243.8,345.9 C1244.9,354.1 1246.1,364.6 1247.2,377.3 C1248.3,390.0 1249.7,403.5 1250.6,422.2 C1251.5,440.9 1252.1,459.6 1252.8,489.5 C1253.5,519.4 1254.1,572.2 1254.6,601.7 C1255.0,631.2 1255.0,666.7 1255.5,666.7 C1256.0,663.0 1256.6,605.0 1257.3,579.2 C1258.0,553.4 1258.7,534.3 1259.6,511.9 C1260.5,489.5 1261.5,460.7 1262.9,444.6 C1264.3,428.5 1266.4,415.5 1268.1,415.5 C1269.8,416.1 1271.6,446.1 1273.0,448.0 C1274.4,448.0 1275.3,439.2 1276.4,426.7 C1277.5,414.2 1278.8,382.0 1279.7,372.8 C1280.6,371.7 1281.0,372.4 1282.0,371.7 C1283.0,370.9 1284.7,368.3 1286.0,368.3 C1287.3,370.0 1288.4,378.4 1289.8,381.8 C1291.2,385.2 1292.6,388.5 1294.3,388.5 C1296.0,381.9 1298.0,349.2 1299.9,342.5 C1301.8,342.5 1303.6,342.5 1305.5,348.1 C1307.4,353.9 1309.3,360.5 1311.2,377.3 C1313.1,394.1 1315.2,443.9 1316.8,449.1 C1318.4,449.1 1319.8,414.9 1320.6,408.7 C1321.4,408.7 1321.0,408.7 1321.7,412.1 C1322.4,420.5 1323.8,457.2 1324.8,459.1 C1325.8,459.1 1326.8,435.0 1327.9,423.4 C1329.0,411.8 1330.2,397.7 1331.3,389.4 C1332.4,381.1 1333.8,373.5 1334.7,373.5 C1335.7,374.4 1336.2,385.4 1337.0,395.1 C1337.8,404.8 1338.8,431.9 1339.8,431.9 C1340.8,430.2 1341.8,390.1 1342.7,384.8 C1343.6,384.8 1344.1,400.2 1344.9,400.2 C1345.8,395.9 1346.8,367.4 1347.8,358.8 C1348.8,350.2 1350.2,350.1 1351.2,348.6 C1352.2,348.6 1353.2,349.1 1354.0,349.7 C1354.8,350.3 1355.5,352.5 1356.3,352.5 C1357.1,350.1 1357.7,339.5 1359.1,335.0 C1360.5,330.5 1362.6,326.4 1364.8,325.3 C1367.0,325.3 1370.0,327.4 1372.2,328.7 C1374.4,330.0 1376.2,331.6 1377.8,333.2 C1379.4,334.8 1380.6,335.8 1381.8,338.4 C1383.0,341.0 1384.2,347.1 1385.2,348.6 C1386.2,348.6 1387.0,348.3 1388.0,347.4 C1389.0,346.4 1390.2,343.9 1391.4,342.9 C1392.6,341.9 1394.1,341.2 1395.4,341.2 C1396.7,341.3 1398.0,342.6 1399.4,343.5 C1400.8,344.4 1402.5,344.3 1403.9,346.3 C1405.3,348.3 1406.9,351.0 1407.9,355.4 C1409.0,359.8 1409.5,367.3 1410.2,372.4 C1411.0,377.5 1411.2,385.6 1412.4,386.0 C1413.6,386.0 1415.5,379.0 1417.5,374.6 C1419.5,370.2 1421.9,363.1 1424.3,359.9 C1426.7,356.7 1429.2,356.4 1431.7,355.4 C1434.2,354.4 1437.1,353.8 1439.1,353.7 C1441.1,353.7 1442.8,354.6 1443.6,354.8" fill="none" stroke="#0A0AE6" stroke-width="2.00" stroke-linejoin="round" stroke-linecap="round"/>
<line x1="864.8" y1="319.7" x2="1487.8" y2="319.7" stroke="#000" stroke-width="2.40"/>
<line x1="1194.6" y1="22.3" x2="1194.6" y2="669.5" stroke="#000" stroke-width="2.40"/>
<line x1="1272.0" y1="605.0" x2="1338.6" y2="605.0" stroke="#E41A1C" stroke-width="2.10"/>
<line x1="1272.0" y1="645.4" x2="1338.6" y2="645.4" stroke="#1F6FD2" stroke-width="2.10"/>
<text x="1346.9" y="0" transform="translate(0,615.1) scale(1,1.100)" text-anchor="start" font-size="28.2" >GGA</text>
<text x="1346.9" y="0" transform="translate(0,655.0) scale(1,1.100)" text-anchor="start" font-size="28.2" >GGA+mBJ</text>
<text x="877.0" y="0" transform="translate(0,56.0) scale(1,1.080)" text-anchor="start" font-size="35.3" >(b)</text>
<text x="935" y="0" transform="translate(0,56) scale(1,1.080)" font-size="35.3">SrNpO<tspan font-size="26" dy="9">3</tspan></text>
<line x1="989.2" y1="180.8" x2="987.3" y2="111.1" stroke="#E97F33" stroke-width="4.20"/>
<polygon points="986.9,95.1 995.8,110.9 978.8,111.3" fill="#E97F33"/>
<line x1="1010.4" y1="503.5" x2="1010.4" y2="590.0" stroke="#E97F33" stroke-width="4.20"/>
<polygon points="1010.4,606.0 1001.9,590.0 1018.9,590.0" fill="#E97F33"/>
<rect x="90.7" y="832.6" width="622.8" height="646.8" fill="none" stroke="#000" stroke-width="2.60"/>
<line x1="90.7" y1="1479.4" x2="90.7" y2="1494.4" stroke="#000" stroke-width="2.60"/>
<line x1="168.6" y1="1479.4" x2="168.6" y2="1494.4" stroke="#000" stroke-width="2.60"/>
<line x1="246.4" y1="1479.4" x2="246.4" y2="1494.4" stroke="#000" stroke-width="2.60"/>
<line x1="324.2" y1="1479.4" x2="324.2" y2="1494.4" stroke="#000" stroke-width="2.60"/>
<line x1="402.1" y1="1479.4" x2="402.1" y2="1494.4" stroke="#000" stroke-width="2.60"/>
<line x1="479.9" y1="1479.4" x2="479.9" y2="1494.4" stroke="#000" stroke-width="2.60"/>
<line x1="557.8" y1="1479.4" x2="557.8" y2="1494.4" stroke="#000" stroke-width="2.60"/>
<line x1="635.6" y1="1479.4" x2="635.6" y2="1494.4" stroke="#000" stroke-width="2.60"/>
<line x1="713.5" y1="1479.4" x2="713.5" y2="1494.4" stroke="#000" stroke-width="2.60"/>
<line x1="129.6" y1="1479.4" x2="129.6" y2="1486.4" stroke="#000" stroke-width="2.60"/>
<line x1="207.5" y1="1479.4" x2="207.5" y2="1486.4" stroke="#000" stroke-width="2.60"/>
<line x1="285.3" y1="1479.4" x2="285.3" y2="1486.4" stroke="#000" stroke-width="2.60"/>
<line x1="363.2" y1="1479.4" x2="363.2" y2="1486.4" stroke="#000" stroke-width="2.60"/>
<line x1="441.0" y1="1479.4" x2="441.0" y2="1486.4" stroke="#000" stroke-width="2.60"/>
<line x1="518.9" y1="1479.4" x2="518.9" y2="1486.4" stroke="#000" stroke-width="2.60"/>
<line x1="596.7" y1="1479.4" x2="596.7" y2="1486.4" stroke="#000" stroke-width="2.60"/>
<line x1="674.6" y1="1479.4" x2="674.6" y2="1486.4" stroke="#000" stroke-width="2.60"/>
<line x1="77.7" y1="1479.4" x2="90.7" y2="1479.4" stroke="#000" stroke-width="2.60"/>
<line x1="77.7" y1="1317.7" x2="90.7" y2="1317.7" stroke="#000" stroke-width="2.60"/>
<line x1="77.7" y1="1156.0" x2="90.7" y2="1156.0" stroke="#000" stroke-width="2.60"/>
<line x1="77.7" y1="994.3" x2="90.7" y2="994.3" stroke="#000" stroke-width="2.60"/>
<line x1="77.7" y1="832.6" x2="90.7" y2="832.6" stroke="#000" stroke-width="2.60"/>
<line x1="83.7" y1="1398.6" x2="90.7" y2="1398.6" stroke="#000" stroke-width="2.60"/>
<line x1="83.7" y1="1236.9" x2="90.7" y2="1236.9" stroke="#000" stroke-width="2.60"/>
<line x1="83.7" y1="1075.2" x2="90.7" y2="1075.2" stroke="#000" stroke-width="2.60"/>
<line x1="83.7" y1="913.5" x2="90.7" y2="913.5" stroke="#000" stroke-width="2.60"/>
<text x="90.7" y="0" transform="translate(0,1534.5) scale(1,1.160)" text-anchor="middle" font-size="35.3" >-8</text>
<text x="168.6" y="0" transform="translate(0,1534.5) scale(1,1.160)" text-anchor="middle" font-size="35.3" >-6</text>
<text x="246.4" y="0" transform="translate(0,1534.5) scale(1,1.160)" text-anchor="middle" font-size="35.3" >-4</text>
<text x="324.2" y="0" transform="translate(0,1534.5) scale(1,1.160)" text-anchor="middle" font-size="35.3" >-2</text>
<text x="402.1" y="0" transform="translate(0,1534.5) scale(1,1.160)" text-anchor="middle" font-size="35.3" >0</text>
<text x="479.9" y="0" transform="translate(0,1534.5) scale(1,1.160)" text-anchor="middle" font-size="35.3" >2</text>
<text x="557.8" y="0" transform="translate(0,1534.5) scale(1,1.160)" text-anchor="middle" font-size="35.3" >4</text>
<text x="635.6" y="0" transform="translate(0,1534.5) scale(1,1.160)" text-anchor="middle" font-size="35.3" >6</text>
<text x="713.5" y="0" transform="translate(0,1534.5) scale(1,1.160)" text-anchor="middle" font-size="35.3" >8</text>
<text x="66.8" y="0" transform="translate(0,1491.9) scale(1,1.160)" text-anchor="end" font-size="35.3" >-10</text>
<text x="66.8" y="0" transform="translate(0,1330.2) scale(1,1.160)" text-anchor="end" font-size="35.3" >-5</text>
<text x="66.8" y="0" transform="translate(0,1168.5) scale(1,1.160)" text-anchor="end" font-size="35.3" >0</text>
<text x="66.8" y="0" transform="translate(0,1006.8) scale(1,1.160)" text-anchor="end" font-size="35.3" >5</text>
<text x="66.8" y="0" transform="translate(0,845.1) scale(1,1.160)" text-anchor="end" font-size="35.3" >10</text>
<text x="393.3" y="0" transform="translate(0,1592.0) scale(1,1.080)" text-anchor="middle" font-size="35.3" >Energy (eV)</text>
<g transform="translate(29.9,1157.0)  rotate(-90)"><text x="0" y="0" transform="scale(1.100,1)" text-anchor="middle" font-size="35.3">DOS (States/eV)</text></g>
<path d="M209.2,1156.9 C210.0,1159.6 212.5,1164.4 213.8,1173.0 C215.1,1181.6 215.8,1194.9 216.8,1208.3 C217.8,1221.7 218.4,1248.7 219.6,1253.6 C220.8,1253.6 222.1,1238.8 223.7,1237.5 C225.3,1237.5 227.4,1245.9 229.1,1245.9 C230.8,1244.4 232.3,1231.8 233.7,1228.3 C235.1,1225.2 236.0,1225.2 237.5,1225.2 C239.0,1225.5 241.0,1225.5 242.9,1229.8 C244.8,1234.1 246.8,1249.9 249.0,1251.3 C251.2,1251.3 253.9,1239.5 256.0,1238.2 C258.1,1238.2 259.3,1239.0 261.3,1243.6 C263.3,1248.2 266.3,1263.6 268.2,1265.9 C270.1,1265.9 271.3,1260.1 272.8,1257.4 C274.3,1254.7 275.9,1249.7 277.0,1249.7 C278.1,1252.3 278.5,1263.6 279.7,1272.8 C280.9,1282.0 283.0,1303.2 284.3,1305.0 C285.6,1305.0 286.4,1289.1 287.4,1283.5 C288.4,1277.9 289.2,1272.0 290.2,1271.2 C291.2,1271.2 292.2,1278.9 293.5,1278.9 C294.8,1273.0 296.9,1245.4 298.2,1235.9 C299.5,1226.4 300.2,1222.1 301.2,1222.1 C302.2,1222.1 303.3,1229.4 304.3,1235.9 C305.3,1242.4 306.1,1256.6 307.4,1261.2 C308.7,1263.6 310.6,1262.8 312.0,1263.6 C313.4,1264.4 314.7,1265.5 315.8,1265.9 C316.9,1265.9 317.6,1265.9 318.9,1265.9 C320.2,1269.1 322.1,1285.0 323.5,1285.0 C324.9,1281.0 326.2,1256.9 327.3,1242.1 C328.4,1227.3 329.4,1208.3 330.4,1196.0 C331.4,1183.7 332.5,1174.9 333.4,1168.4 C334.3,1161.9 333.4,1158.9 335.7,1156.9 C357.6,1156.2 443.0,1156.2 465.1,1156.2 C468.3,1160.2 467.4,1161.3 468.3,1181.0 C469.2,1200.7 469.5,1236.9 470.3,1274.1 C471.1,1311.3 472.4,1378.6 473.4,1404.4 C474.4,1429.2 475.4,1422.0 476.5,1429.2 C477.6,1436.4 479.2,1447.8 480.2,1447.8 C481.2,1444.3 481.6,1425.4 482.7,1408.5 C483.8,1391.6 485.6,1360.6 486.9,1346.5 C488.2,1332.4 489.4,1325.4 490.6,1323.7 C491.8,1323.7 493.0,1328.8 494.1,1336.1 C495.2,1343.3 496.2,1367.2 497.2,1367.2 C498.2,1363.8 499.3,1336.2 500.3,1315.5 C501.3,1294.8 502.0,1259.3 503.4,1243.1 C504.8,1226.9 507.1,1220.7 508.6,1218.3 C510.2,1218.3 511.3,1225.2 512.7,1228.6 C514.1,1232.0 515.4,1238.9 516.9,1238.9 C518.4,1237.9 520.5,1229.3 522.0,1222.4 C523.5,1215.5 524.5,1206.0 526.2,1197.6 C527.9,1189.1 530.5,1175.8 532.4,1171.7 C534.3,1171.7 535.4,1171.7 537.5,1172.8 C539.6,1174.7 541.9,1178.6 544.8,1183.1 C547.7,1187.6 551.8,1193.7 555.1,1199.6 C558.4,1205.5 562.1,1211.0 564.4,1218.3 C566.6,1225.5 567.2,1229.7 568.6,1243.1 C570.0,1256.5 571.2,1297.2 572.7,1298.9 C574.2,1298.9 576.2,1258.9 577.9,1253.4 C579.6,1253.4 581.3,1265.8 583.0,1265.8 C584.7,1265.1 585.8,1258.9 588.2,1249.3 C590.6,1239.7 594.7,1207.9 597.5,1207.9 C600.3,1209.8 602.7,1254.7 604.8,1260.7 C606.9,1260.7 608.3,1246.5 609.9,1244.1 C611.5,1244.1 612.4,1246.2 614.1,1246.2 C615.8,1238.5 618.6,1205.4 620.3,1197.6 C622.0,1197.6 622.8,1197.7 624.4,1199.6 C626.0,1201.5 627.7,1206.3 629.6,1208.9 C631.5,1211.5 633.7,1211.3 635.8,1215.1 C637.9,1218.9 640.3,1231.7 642.0,1231.7 C643.7,1229.5 644.7,1210.5 646.1,1201.7 C647.5,1192.9 648.4,1183.5 650.3,1179.0 C652.2,1174.8 655.3,1174.8 657.5,1174.8 C659.7,1175.0 662.2,1180.0 663.7,1180.0 C665.2,1179.5 666.3,1173.1 666.8,1171.7" fill="none" stroke="#E04848" stroke-width="1.70" stroke-linejoin="round" stroke-linecap="round"/>
<path d="M203.5,1155.5 C204.8,1151.6 209.5,1145.0 211.6,1132.0 C213.7,1119.0 214.9,1093.2 216.1,1077.8 C217.2,1062.4 217.4,1044.6 218.5,1039.8 C219.6,1039.8 221.2,1047.1 222.5,1048.9 C223.8,1050.7 224.6,1048.9 226.1,1050.7 C227.6,1053.7 229.8,1065.4 231.5,1066.9 C233.2,1066.9 234.5,1063.2 236.0,1059.7 C237.5,1056.2 239.0,1048.3 240.5,1046.2 C242.0,1046.2 243.3,1047.0 245.0,1047.0 C246.7,1044.1 249.0,1036.8 250.5,1029.0 C252.0,1021.2 252.7,1016.4 254.1,1000.1 C255.5,983.8 257.6,932.0 259.0,931.4 C260.4,931.4 261.1,972.5 262.2,996.5 C263.3,1020.5 264.8,1066.4 265.8,1075.1 C266.9,1075.1 267.5,1058.2 268.5,1048.9 C269.5,1039.6 270.7,1019.9 271.8,1019.0 C272.9,1019.0 273.9,1035.7 274.9,1043.4 C275.9,1051.1 276.6,1062.4 277.6,1065.1 C278.7,1065.1 280.0,1059.7 281.2,1059.7 C282.4,1059.7 283.3,1065.1 284.8,1065.1 C286.3,1063.3 288.1,1054.3 290.2,1048.9 C292.3,1043.5 295.8,1032.9 297.4,1032.6 C299.0,1032.6 298.9,1038.6 300.1,1047.0 C301.3,1055.4 303.0,1071.8 304.7,1083.2 C306.4,1094.7 308.0,1108.2 310.1,1115.7 C312.2,1123.2 314.9,1124.5 317.3,1128.4 C319.7,1132.3 322.2,1135.6 324.5,1139.2 C326.8,1142.8 329.5,1150.0 330.9,1150.0 C332.3,1148.8 331.9,1150.0 332.7,1132.0 C333.4,1106.4 334.4,1036.5 335.4,996.5 C336.4,956.5 337.6,897.7 338.6,891.7 C339.7,891.7 340.7,938.0 341.7,960.3 C342.7,982.6 342.9,1015.8 344.4,1025.4 C345.9,1025.4 348.9,1018.1 350.7,1018.1 C352.5,1019.0 353.8,1025.5 355.2,1030.8 C356.6,1036.1 357.7,1046.8 358.9,1049.8 C360.1,1049.8 361.3,1049.8 362.5,1048.9 C363.7,1044.5 364.7,1036.2 366.1,1023.6 C367.6,1011.0 369.9,976.9 371.2,973.0 C372.5,973.0 372.9,978.1 374.2,1000.1 C375.4,1022.1 377.0,1086.2 378.7,1104.9 C380.4,1112.1 382.1,1109.2 384.2,1112.1 C386.3,1114.9 389.0,1120.3 391.4,1122.0 C393.8,1122.0 396.5,1122.0 398.6,1122.0 C400.7,1122.3 402.4,1123.2 404.0,1123.8 C405.6,1124.4 406.2,1125.5 408.3,1125.5 C410.4,1124.4 413.8,1120.7 416.5,1117.2 C419.2,1113.8 422.7,1106.2 424.8,1104.8 C426.9,1104.8 427.6,1104.8 429.0,1108.9 C430.4,1113.7 431.7,1125.9 433.1,1133.7 C434.5,1141.5 433.1,1152.2 437.2,1155.9 C445.5,1155.9 469.1,1155.9 482.7,1155.9 C496.3,1155.1 511.8,1154.2 519.0,1151.2 C526.2,1148.2 521.9,1144.3 526.2,1137.9 C530.5,1131.5 539.6,1120.6 544.8,1113.0 C550.0,1105.4 554.1,1100.7 557.2,1092.4 C560.3,1084.1 561.9,1075.1 563.4,1063.4 C564.9,1051.7 565.5,1032.5 566.5,1022.0 C567.5,1011.5 568.0,1000.3 569.2,1000.3 C570.4,1001.3 571.9,1017.1 573.7,1028.3 C575.5,1039.5 577.5,1058.5 579.9,1067.5 C582.3,1076.5 585.9,1077.0 588.2,1082.0 C590.6,1087.0 592.5,1097.5 594.0,1097.5 C595.5,1096.5 596.3,1082.2 597.5,1075.8 C598.7,1069.4 599.8,1059.3 601.0,1059.3 C602.2,1059.3 603.0,1068.2 604.8,1075.8 C606.6,1083.4 609.8,1101.7 612.0,1104.8 C614.2,1104.8 616.3,1098.2 618.2,1094.4 C620.1,1090.6 621.8,1085.4 623.4,1082.0 C625.0,1078.6 626.2,1073.8 627.9,1073.8 C629.6,1074.7 632.1,1084.5 633.7,1087.2 C635.4,1090.0 636.1,1087.2 637.8,1090.3 C639.5,1094.4 641.6,1111.3 644.0,1112.0 C646.4,1112.0 649.9,1098.7 652.3,1094.4 C654.7,1090.1 656.7,1089.3 658.5,1086.2 C660.3,1083.1 661.7,1075.8 663.1,1075.8 C664.5,1079.1 666.2,1100.8 666.8,1105.8" fill="none" stroke="#E41A1C" stroke-width="2.00" stroke-linejoin="round" stroke-linecap="round"/>
<path d="M188.5,1156.0 C191.3,1155.9 201.8,1156.0 205.3,1155.5 C208.9,1151.5 208.6,1140.4 209.8,1132.0 C211.0,1123.6 211.7,1122.1 212.5,1104.9 C213.3,1087.7 213.7,1043.0 214.7,1029.0 C215.7,1020.9 217.5,1020.9 218.5,1020.9 C219.5,1021.5 219.8,1030.5 220.6,1032.6 C221.4,1033.5 222.0,1032.6 223.4,1033.5 C224.8,1035.3 227.0,1043.4 228.8,1043.4 C230.6,1042.7 231.9,1036.2 234.2,1029.0 C236.4,1021.8 240.4,1013.4 242.3,1000.1 C244.2,986.9 244.7,968.8 245.9,949.5 C247.1,930.2 248.5,884.5 249.6,884.5 C250.7,886.3 251.6,935.6 252.3,960.3 C253.1,985.0 253.5,1008.2 254.1,1032.6 C254.7,1057.0 255.0,1106.7 255.9,1106.7 C256.8,1104.6 258.4,1036.3 259.5,1020.0 C260.6,1009.1 261.3,1009.1 262.2,1009.1 C263.1,1012.7 264.1,1032.3 264.9,1041.6 C265.6,1050.9 266.0,1062.7 266.7,1065.1 C267.4,1065.1 268.1,1056.1 269.1,1056.1 C270.1,1059.7 271.4,1086.8 272.5,1086.8 C273.6,1085.9 274.7,1066.4 275.8,1050.7 C276.9,1035.0 278.2,1003.8 279.4,992.9 C280.6,985.6 281.9,985.6 283.0,985.6 C284.1,987.7 284.8,995.6 285.7,1005.5 C286.6,1015.4 287.2,1033.2 288.4,1045.2 C289.6,1057.2 291.4,1065.5 292.9,1077.8 C294.4,1090.1 295.9,1111.5 297.4,1119.3 C298.9,1124.7 300.5,1121.1 302.0,1124.7 C303.5,1128.3 305.3,1135.8 306.5,1141.0 C307.7,1146.2 306.5,1153.5 309.2,1156.0 C311.9,1156.0 320.0,1156.0 322.7,1156.0 C325.4,1150.5 324.3,1137.5 325.4,1122.9 C326.4,1108.4 328.1,1092.8 329.0,1068.7 C329.9,1044.6 330.4,1010.2 330.9,978.4 C331.4,946.6 331.5,884.1 332.1,878.1 C332.7,878.1 333.9,923.2 334.5,942.3 C335.1,961.4 334.8,985.5 335.7,992.9 C336.6,992.9 338.8,986.5 339.9,986.5 C341.0,990.1 341.7,1005.9 342.6,1014.5 C343.5,1023.1 344.4,1032.4 345.3,1038.0 C346.2,1043.6 346.8,1047.4 348.0,1048.0 C349.2,1048.0 351.3,1045.2 352.5,1041.6 C353.7,1038.0 354.3,1026.3 355.2,1026.3 C356.1,1026.6 357.2,1036.3 358.0,1043.4 C358.8,1050.5 359.2,1068.7 359.8,1068.7 C360.4,1066.9 361.1,1050.7 361.6,1032.6 C362.1,1014.5 362.4,966.3 362.8,960.3 C363.2,960.3 363.8,978.4 364.3,996.5 C364.9,1014.6 365.5,1052.8 366.1,1068.7 C366.7,1084.7 367.0,1086.2 367.9,1092.2 C368.8,1098.2 370.3,1101.0 371.5,1104.9 C372.7,1108.8 373.9,1114.1 375.1,1115.7 C376.3,1115.7 377.3,1114.8 378.7,1114.8 C380.1,1115.7 381.8,1119.1 383.3,1121.1 C384.8,1123.0 386.0,1125.4 387.8,1126.5 C389.6,1127.5 392.3,1127.5 394.1,1127.5 C395.9,1126.9 396.9,1122.9 398.6,1122.9 C400.3,1123.1 402.0,1127.8 404.1,1128.6 C406.2,1128.6 409.3,1128.6 411.4,1127.5 C413.5,1126.0 415.1,1121.9 416.5,1119.3 C417.9,1116.7 418.4,1112.9 419.6,1112.0 C420.8,1112.0 422.6,1114.1 423.8,1114.1 C425.0,1111.5 425.7,1099.1 426.9,1096.5 C428.1,1096.5 430.0,1096.5 431.0,1098.6 C432.0,1102.0 432.4,1110.0 433.1,1117.2 C433.8,1124.4 434.5,1135.5 435.2,1142.0 C435.9,1148.5 435.2,1153.6 437.2,1155.9 C443.0,1156.0 452.1,1156.0 470.0,1156.0 C487.9,1156.0 531.0,1156.0 544.8,1156.0 C553.0,1155.8 550.2,1156.0 553.0,1154.8 C555.8,1152.1 558.2,1145.5 561.3,1139.9 C564.4,1134.3 568.6,1127.5 571.7,1121.3 C574.8,1115.1 578.0,1110.6 579.9,1102.7 C581.8,1094.8 582.0,1087.2 583.0,1073.8 C584.0,1060.3 585.0,1039.2 586.1,1022.0 C587.2,1004.8 588.5,976.8 589.9,970.3 C591.3,970.3 593.1,975.9 594.4,982.8 C595.7,989.7 596.3,1005.7 597.5,1011.7 C598.7,1017.7 600.5,1013.7 601.7,1018.9 C602.9,1024.1 603.8,1031.8 604.8,1042.7 C605.8,1053.6 606.8,1084.1 607.9,1084.1 C609.0,1080.6 610.4,1036.5 611.4,1022.0 C612.4,1007.5 613.1,997.2 614.1,997.2 C615.1,997.2 616.2,1006.8 617.2,1022.0 C618.2,1037.2 619.1,1073.4 620.3,1088.2 C621.5,1103.0 623.0,1106.9 624.4,1111.0 C625.8,1113.0 626.8,1113.0 628.5,1113.0 C630.2,1112.0 632.8,1104.8 634.7,1104.8 C636.6,1107.2 638.2,1123.2 639.9,1127.5 C641.6,1130.6 643.0,1130.6 645.1,1130.6 C647.2,1128.5 650.1,1116.3 652.3,1115.1 C654.5,1115.1 656.6,1121.7 658.5,1123.4 C660.4,1125.1 662.3,1123.4 663.7,1125.5 C665.1,1127.6 666.3,1134.1 666.8,1135.8" fill="none" stroke="#0A0AE6" stroke-width="2.00" stroke-linejoin="round" stroke-linecap="round"/>
<path d="M188.4,1156.1 C188.8,1159.4 189.8,1167.0 190.7,1176.1 C191.6,1185.2 192.8,1207.0 193.8,1210.6 C194.8,1210.6 195.9,1198.1 196.9,1197.6 C197.9,1197.6 198.7,1207.0 199.6,1207.5 C200.5,1207.5 201.4,1202.0 202.2,1200.6 C203.0,1199.2 203.8,1200.3 204.6,1199.1 C205.4,1197.9 206.0,1193.3 207.3,1193.3 C208.6,1194.5 210.5,1202.2 212.2,1206.0 C213.9,1209.8 216.2,1211.8 217.6,1216.0 C219.0,1220.2 219.7,1226.5 220.7,1231.3 C221.7,1236.1 222.5,1243.0 223.7,1245.1 C224.8,1245.1 225.8,1245.1 227.6,1243.6 C229.4,1241.7 232.3,1233.8 234.5,1233.6 C236.7,1233.6 238.6,1237.1 240.6,1242.1 C242.6,1247.1 244.9,1259.2 246.7,1263.6 C248.5,1267.9 249.8,1263.6 251.4,1268.2 C253.0,1272.9 254.7,1291.1 256.0,1291.9 C257.3,1291.9 258.0,1277.7 259.0,1272.8 C260.0,1267.9 261.1,1262.8 262.1,1262.8 C263.1,1265.3 264.3,1277.4 265.2,1288.1 C266.1,1298.8 266.5,1327.2 267.5,1327.2 C268.5,1324.8 270.1,1277.0 271.3,1273.5 C272.5,1273.5 273.7,1305.1 274.8,1306.5 C275.9,1306.5 277.1,1295.3 278.2,1282.0 C279.3,1268.7 280.1,1239.0 281.3,1226.7 C282.5,1214.4 284.1,1208.3 285.1,1208.3 C286.1,1213.4 286.6,1240.0 287.4,1257.4 C288.2,1274.8 288.7,1306.4 289.7,1312.7 C290.7,1312.7 292.1,1300.8 293.5,1295.0 C294.9,1289.2 296.6,1279.8 297.8,1278.1 C299.0,1278.1 299.7,1281.8 300.5,1285.0 C301.3,1288.2 302.0,1297.3 302.8,1297.3 C303.6,1292.7 304.2,1271.7 305.1,1257.4 C306.0,1243.1 307.2,1225.5 308.1,1211.4 C309.0,1197.3 309.7,1182.2 310.4,1173.0 C311.1,1163.8 310.4,1158.9 312.3,1156.1 C339.0,1156.1 443.6,1156.1 470.3,1156.2 C472.4,1158.6 471.8,1156.2 472.4,1170.7 C473.0,1186.9 473.6,1225.8 474.0,1253.4 C474.4,1281.0 474.5,1298.9 474.9,1336.1 C475.2,1373.3 475.7,1476.8 476.1,1476.8 C476.6,1476.8 477.2,1369.9 477.6,1336.1 C478.0,1302.3 478.3,1274.1 478.6,1274.1 C478.9,1274.1 478.9,1304.7 479.6,1336.1 C480.3,1367.5 481.7,1443.0 482.7,1462.3 C483.7,1462.3 484.8,1462.3 485.8,1452.0 C486.8,1437.9 487.7,1396.1 488.9,1377.5 C490.1,1358.9 491.9,1343.8 493.1,1340.3 C494.3,1340.3 495.2,1345.8 496.2,1356.8 C497.2,1367.8 498.4,1406.5 499.3,1406.5 C500.2,1403.0 500.6,1361.6 501.3,1336.1 C502.0,1310.6 502.5,1271.3 503.4,1253.4 C504.3,1235.5 505.5,1233.9 506.5,1228.6 C507.5,1223.3 507.9,1222.6 509.6,1221.4 C511.3,1221.4 514.8,1221.4 516.9,1221.4 C519.0,1225.0 520.4,1243.1 522.0,1243.1 C523.6,1242.6 525.2,1230.4 526.6,1218.3 C528.0,1206.2 529.0,1181.0 530.3,1170.7 C531.6,1160.4 531.6,1158.6 534.4,1156.2 C537.1,1156.2 543.3,1156.2 546.8,1156.2 C550.2,1156.9 552.0,1157.9 555.1,1160.3 C558.2,1162.7 562.0,1165.9 565.5,1170.7 C569.0,1175.5 572.9,1182.4 575.8,1189.3 C578.7,1196.2 581.3,1202.0 583.0,1212.0 C584.7,1222.0 585.2,1235.5 586.1,1249.3 C587.0,1263.1 587.4,1280.5 588.2,1294.8 C589.0,1309.1 589.7,1333.0 590.7,1335.1 C591.7,1335.1 592.9,1309.8 594.4,1307.2 C595.9,1307.2 597.9,1319.6 599.6,1319.6 C601.3,1313.4 602.8,1285.3 604.8,1270.0 C606.8,1254.7 609.8,1228.6 611.4,1227.6 C613.0,1227.6 613.2,1250.0 614.1,1263.8 C615.0,1277.6 615.9,1309.3 616.8,1310.3 C617.6,1310.3 618.3,1279.5 619.2,1270.0 C620.1,1260.5 621.3,1263.8 622.3,1253.4 C623.3,1243.1 624.2,1217.6 625.4,1207.9 C626.6,1198.2 628.0,1196.0 629.6,1195.5 C631.2,1195.5 633.5,1204.8 635.2,1204.8 C636.9,1201.3 638.2,1181.0 639.9,1174.8 C641.5,1168.6 642.7,1167.8 645.1,1167.6 C647.5,1167.6 651.6,1171.2 654.4,1173.8 C657.1,1176.4 659.7,1179.8 661.6,1183.1 C663.5,1186.4 664.9,1193.1 665.8,1193.4 C666.7,1193.4 666.6,1186.6 666.8,1185.2" fill="none" stroke="#0A0AE6" stroke-width="2.00" stroke-linejoin="round" stroke-linecap="round"/>
<line x1="90.7" y1="1156.0" x2="713.5" y2="1156.0" stroke="#000" stroke-width="2.40"/>
<line x1="402.1" y1="832.6" x2="402.1" y2="1479.4" stroke="#000" stroke-width="2.40"/>
<line x1="90.7" y1="1415.6" x2="156.8" y2="1415.6" stroke="#E41A1C" stroke-width="2.10"/>
<line x1="90.7" y1="1455.8" x2="156.8" y2="1455.8" stroke="#0A0AE6" stroke-width="2.10"/>
<text x="164.2" y="0" transform="translate(0,1425.3) scale(1,1.100)" text-anchor="start" font-size="28.2" >GGA</text>
<text x="164.2" y="0" transform="translate(0,1465.6) scale(1,1.100)" text-anchor="start" font-size="28.2" >GGA+mBJ</text>
<text x="120.5" y="0" transform="translate(0,871.0) scale(1,1.080)" text-anchor="start" font-size="35.3" >(c)</text>
<text x="485.5" y="0" transform="translate(0,870.4) scale(1,1.080)" font-size="35.3">SrCmO<tspan font-size="24" dy="10">3</tspan></text>
<line x1="144.7" y1="1023.5" x2="142.8" y2="953.2" stroke="#E97F33" stroke-width="4.20"/>
<polygon points="142.4,937.2 151.3,953.0 134.3,953.4" fill="#E97F33"/>
<line x1="351.5" y1="1329.0" x2="351.5" y2="1416.9" stroke="#E97F33" stroke-width="4.20"/>
<polygon points="351.5,1432.9 343.0,1416.9 360.0,1416.9" fill="#E97F33"/>
<rect x="866.7" y="836.7" width="622.9" height="646.9" fill="none" stroke="#000" stroke-width="2.60"/>
<line x1="866.7" y1="1483.6" x2="866.7" y2="1498.6" stroke="#000" stroke-width="2.60"/>
<line x1="944.6" y1="1483.6" x2="944.6" y2="1498.6" stroke="#000" stroke-width="2.60"/>
<line x1="1022.4" y1="1483.6" x2="1022.4" y2="1498.6" stroke="#000" stroke-width="2.60"/>
<line x1="1100.3" y1="1483.6" x2="1100.3" y2="1498.6" stroke="#000" stroke-width="2.60"/>
<line x1="1178.2" y1="1483.6" x2="1178.2" y2="1498.6" stroke="#000" stroke-width="2.60"/>
<line x1="1256.0" y1="1483.6" x2="1256.0" y2="1498.6" stroke="#000" stroke-width="2.60"/>
<line x1="1333.9" y1="1483.6" x2="1333.9" y2="1498.6" stroke="#000" stroke-width="2.60"/>
<line x1="1411.7" y1="1483.6" x2="1411.7" y2="1498.6" stroke="#000" stroke-width="2.60"/>
<line x1="1489.6" y1="1483.6" x2="1489.6" y2="1498.6" stroke="#000" stroke-width="2.60"/>
<line x1="905.6" y1="1483.6" x2="905.6" y2="1490.6" stroke="#000" stroke-width="2.60"/>
<line x1="983.5" y1="1483.6" x2="983.5" y2="1490.6" stroke="#000" stroke-width="2.60"/>
<line x1="1061.4" y1="1483.6" x2="1061.4" y2="1490.6" stroke="#000" stroke-width="2.60"/>
<line x1="1139.2" y1="1483.6" x2="1139.2" y2="1490.6" stroke="#000" stroke-width="2.60"/>
<line x1="1217.1" y1="1483.6" x2="1217.1" y2="1490.6" stroke="#000" stroke-width="2.60"/>
<line x1="1294.9" y1="1483.6" x2="1294.9" y2="1490.6" stroke="#000" stroke-width="2.60"/>
<line x1="1372.8" y1="1483.6" x2="1372.8" y2="1490.6" stroke="#000" stroke-width="2.60"/>
<line x1="1450.7" y1="1483.6" x2="1450.7" y2="1490.6" stroke="#000" stroke-width="2.60"/>
<line x1="853.7" y1="1483.6" x2="866.7" y2="1483.6" stroke="#000" stroke-width="2.60"/>
<line x1="853.7" y1="1321.9" x2="866.7" y2="1321.9" stroke="#000" stroke-width="2.60"/>
<line x1="853.7" y1="1160.2" x2="866.7" y2="1160.2" stroke="#000" stroke-width="2.60"/>
<line x1="853.7" y1="998.4" x2="866.7" y2="998.4" stroke="#000" stroke-width="2.60"/>
<line x1="853.7" y1="836.7" x2="866.7" y2="836.7" stroke="#000" stroke-width="2.60"/>
<line x1="859.7" y1="1402.7" x2="866.7" y2="1402.7" stroke="#000" stroke-width="2.60"/>
<line x1="859.7" y1="1241.0" x2="866.7" y2="1241.0" stroke="#000" stroke-width="2.60"/>
<line x1="859.7" y1="1079.3" x2="866.7" y2="1079.3" stroke="#000" stroke-width="2.60"/>
<line x1="859.7" y1="917.6" x2="866.7" y2="917.6" stroke="#000" stroke-width="2.60"/>
<text x="866.7" y="0" transform="translate(0,1538.8) scale(1,1.160)" text-anchor="middle" font-size="35.3" >-8</text>
<text x="944.6" y="0" transform="translate(0,1538.8) scale(1,1.160)" text-anchor="middle" font-size="35.3" >-6</text>
<text x="1022.4" y="0" transform="translate(0,1538.8) scale(1,1.160)" text-anchor="middle" font-size="35.3" >-4</text>
<text x="1100.3" y="0" transform="translate(0,1538.8) scale(1,1.160)" text-anchor="middle" font-size="35.3" >-2</text>
<text x="1178.2" y="0" transform="translate(0,1538.8) scale(1,1.160)" text-anchor="middle" font-size="35.3" >0</text>
<text x="1256.0" y="0" transform="translate(0,1538.8) scale(1,1.160)" text-anchor="middle" font-size="35.3" >2</text>
<text x="1333.9" y="0" transform="translate(0,1538.8) scale(1,1.160)" text-anchor="middle" font-size="35.3" >4</text>
<text x="1411.7" y="0" transform="translate(0,1538.8) scale(1,1.160)" text-anchor="middle" font-size="35.3" >6</text>
<text x="1489.6" y="0" transform="translate(0,1538.8) scale(1,1.160)" text-anchor="middle" font-size="35.3" >8</text>
<text x="843.6" y="0" transform="translate(0,1496.1) scale(1,1.160)" text-anchor="end" font-size="35.3" >-10</text>
<text x="843.6" y="0" transform="translate(0,1334.4) scale(1,1.160)" text-anchor="end" font-size="35.3" >-5</text>
<text x="843.6" y="0" transform="translate(0,1172.7) scale(1,1.160)" text-anchor="end" font-size="35.3" >0</text>
<text x="843.6" y="0" transform="translate(0,1010.9) scale(1,1.160)" text-anchor="end" font-size="35.3" >5</text>
<text x="843.6" y="0" transform="translate(0,849.2) scale(1,1.160)" text-anchor="end" font-size="35.3" >10</text>
<text x="1178.0" y="0" transform="translate(0,1592.5) scale(1,1.080)" text-anchor="middle" font-size="35.3" >Energy (eV)</text>
<g transform="translate(809.9,1147.7)  rotate(-90)"><text x="0" y="0" transform="scale(1.100,1)" text-anchor="middle" font-size="35.3">DOS (States/eV)</text></g>
<clipPath id="cd"><rect x="866.7" y="836.7" width="622.9" height="646.9"/></clipPath><g clip-path="url(#cd)">
<path d="M1017.9,1160.2 C1018.9,1162.2 1022.4,1166.6 1023.9,1172.4 C1025.4,1178.2 1026.0,1186.1 1026.9,1194.8 C1027.8,1203.5 1028.3,1215.7 1029.2,1224.7 C1030.1,1233.7 1031.0,1243.2 1032.1,1248.7 C1033.2,1254.2 1034.8,1256.6 1035.9,1257.6 C1037.0,1257.6 1037.9,1255.6 1038.9,1254.6 C1039.9,1253.6 1040.9,1253.7 1041.9,1251.7 C1042.9,1249.7 1043.8,1245.1 1044.8,1242.7 C1045.8,1240.3 1046.8,1238.1 1047.8,1237.5 C1048.8,1237.5 1049.7,1237.5 1050.8,1239.0 C1051.9,1240.9 1053.3,1245.6 1054.6,1248.7 C1055.8,1251.8 1056.9,1257.6 1058.3,1257.6 C1059.7,1257.3 1061.4,1248.8 1062.8,1247.2 C1064.2,1247.2 1065.2,1247.2 1066.5,1247.9 C1067.8,1249.1 1069.0,1250.0 1070.3,1254.6 C1071.5,1259.2 1072.9,1269.4 1074.0,1275.6 C1075.1,1281.8 1076.0,1292.0 1077.0,1292.0 C1078.0,1292.0 1078.9,1281.2 1080.0,1275.6 C1081.1,1270.0 1082.6,1259.4 1083.7,1258.4 C1084.8,1258.4 1085.7,1261.5 1086.7,1269.6 C1087.7,1277.7 1088.8,1297.5 1089.7,1307.0 C1090.7,1316.5 1091.4,1326.4 1092.4,1326.4 C1093.4,1325.7 1094.5,1309.5 1095.7,1302.5 C1096.9,1295.5 1098.2,1292.5 1099.4,1284.5 C1100.7,1276.5 1102.0,1266.0 1103.2,1254.6 C1104.5,1243.1 1105.9,1220.8 1106.9,1215.8 C1107.9,1215.8 1108.3,1215.8 1109.1,1224.7 C1109.8,1238.7 1110.5,1280.7 1111.4,1299.5 C1112.3,1318.3 1113.3,1335.1 1114.4,1337.6 C1115.5,1337.6 1116.9,1323.2 1118.1,1314.4 C1119.3,1305.6 1120.7,1297.0 1121.8,1284.5 C1122.9,1272.0 1123.7,1253.0 1124.8,1239.7 C1125.9,1226.4 1127.2,1211.1 1128.6,1204.6 C1130.0,1200.8 1131.5,1202.3 1133.1,1200.8 C1134.7,1199.3 1136.8,1199.1 1138.3,1195.6 C1139.8,1192.1 1140.6,1185.8 1142.0,1179.9 C1143.4,1174.0 1142.0,1163.6 1146.5,1160.2 C1155.3,1159.4 1185.7,1159.4 1194.8,1159.4 C1201.1,1160.1 1199.8,1159.4 1201.1,1164.6 C1202.4,1170.0 1202.2,1173.3 1202.7,1191.7 C1203.2,1210.1 1203.7,1240.4 1204.2,1275.2 C1204.7,1310.0 1205.4,1365.7 1205.9,1400.4 C1206.4,1435.1 1206.8,1483.6 1207.3,1483.6 C1207.8,1483.6 1208.5,1428.2 1209.0,1400.4 C1209.5,1372.6 1210.0,1338.6 1210.5,1316.9 C1211.0,1295.2 1211.4,1270.0 1212.1,1270.0 C1212.8,1273.5 1213.5,1314.7 1214.6,1337.8 C1215.7,1360.9 1217.4,1403.5 1218.8,1408.7 C1220.2,1408.7 1221.8,1383.3 1223.0,1369.1 C1224.2,1354.8 1225.1,1333.1 1226.1,1323.2 C1227.1,1313.3 1227.8,1309.6 1228.8,1309.6 C1229.8,1310.3 1231.3,1320.5 1232.4,1327.3 C1233.5,1334.1 1234.5,1350.3 1235.5,1350.3 C1236.5,1348.6 1237.5,1332.9 1238.6,1316.9 C1239.6,1300.9 1240.6,1269.2 1241.8,1254.3 C1243.0,1239.3 1244.2,1234.2 1245.9,1227.2 C1247.6,1220.2 1249.9,1215.5 1252.2,1212.6 C1254.5,1209.6 1257.6,1209.5 1259.5,1209.5 C1261.4,1210.2 1262.1,1213.8 1263.7,1216.8 C1265.3,1219.8 1267.3,1227.2 1268.9,1227.2 C1270.5,1227.2 1271.9,1220.6 1273.1,1216.8 C1274.3,1213.0 1275.2,1210.1 1276.2,1204.2 C1277.2,1198.3 1278.1,1188.2 1279.3,1181.3 C1280.5,1174.4 1282.0,1166.4 1283.5,1163.0 C1285.0,1161.0 1285.2,1161.2 1288.0,1161.0 C1290.8,1161.0 1296.1,1161.5 1300.0,1161.8 C1303.9,1162.1 1307.6,1162.6 1311.2,1163.1 C1314.8,1163.6 1319.1,1163.9 1321.8,1165.0 C1324.5,1166.1 1325.0,1167.9 1327.4,1169.9 C1329.8,1171.9 1333.4,1173.9 1336.1,1176.8 C1338.8,1179.7 1340.9,1183.6 1343.6,1187.4 C1346.3,1191.2 1349.8,1195.9 1352.3,1199.8 C1354.8,1203.7 1356.7,1207.0 1358.6,1211.0 C1360.5,1215.0 1362.3,1219.1 1363.5,1223.5 C1364.7,1227.9 1365.3,1230.8 1366.0,1237.2 C1366.7,1243.6 1367.3,1252.8 1367.9,1262.1 C1368.5,1271.4 1369.1,1285.7 1369.8,1293.3 C1370.5,1300.9 1371.2,1307.6 1371.9,1307.6 C1372.6,1307.6 1373.4,1298.0 1374.1,1293.3 C1374.8,1288.6 1375.3,1282.5 1376.0,1279.6 C1376.7,1276.7 1377.4,1279.5 1378.5,1275.8 C1379.6,1272.0 1381.3,1261.9 1382.8,1257.1 C1384.2,1252.3 1385.4,1253.6 1387.2,1247.2 C1389.0,1240.8 1391.9,1224.2 1393.4,1218.5 C1395.0,1212.9 1395.5,1212.9 1396.5,1212.9 C1397.5,1213.9 1398.5,1217.5 1399.7,1224.7 C1400.9,1231.9 1402.4,1248.7 1403.4,1255.9 C1404.4,1263.1 1404.8,1267.7 1405.6,1267.7 C1406.4,1267.7 1407.1,1263.1 1408.4,1255.9 C1409.7,1248.7 1411.7,1233.4 1413.4,1224.7 C1415.1,1216.0 1416.5,1205.7 1418.4,1203.6 C1420.3,1203.6 1422.9,1209.2 1424.6,1212.3 C1426.2,1215.4 1426.8,1216.1 1428.3,1222.3 C1429.8,1228.5 1432.2,1246.8 1433.9,1249.7 C1435.6,1249.7 1437.0,1242.4 1438.3,1239.7 C1439.5,1237.0 1440.6,1236.0 1441.4,1233.5 C1442.2,1231.0 1443.0,1226.2 1443.3,1224.7" fill="none" stroke="#E41A1C" stroke-width="2.00" stroke-linejoin="round" stroke-linecap="round"/>
<path d="M1004.6,1159.9 C1005.3,1150.2 1007.4,1126.1 1008.8,1101.4 C1010.2,1076.7 1011.6,1029.0 1013.0,1011.6 C1014.4,997.0 1016.1,1001.9 1017.1,997.0 C1018.1,992.1 1018.5,996.3 1019.2,982.4 C1019.9,968.5 1020.4,937.7 1021.3,913.5 C1022.2,889.3 1023.4,850.0 1024.4,837.3 C1025.4,837.3 1026.3,837.3 1027.2,837.3 C1028.1,857.0 1028.8,929.4 1029.7,955.3 C1030.6,981.2 1031.1,988.6 1032.8,992.8 C1034.5,992.8 1038.2,980.3 1040.1,980.3 C1041.9,981.0 1042.7,988.3 1043.9,997.0 C1045.1,1005.7 1046.1,1023.8 1047.4,1032.5 C1048.7,1041.2 1050.0,1040.9 1051.6,1049.2 C1053.2,1057.5 1055.3,1082.6 1056.8,1082.6 C1058.3,1077.4 1059.6,1041.9 1060.6,1017.9 C1061.6,993.9 1062.0,945.6 1062.7,938.6 C1063.4,938.6 1064.1,965.7 1064.7,976.1 C1065.3,986.5 1065.5,1001.2 1066.6,1001.2 C1067.6,998.4 1069.8,963.6 1071.0,959.4 C1072.2,959.4 1072.2,962.9 1073.5,976.1 C1074.8,989.3 1077.0,1023.8 1078.7,1038.8 C1080.4,1053.8 1082.1,1060.0 1083.9,1065.9 C1085.8,1071.8 1088.0,1070.1 1089.8,1074.3 C1091.5,1078.5 1092.9,1085.6 1094.4,1091.0 C1095.9,1096.4 1097.0,1106.3 1098.6,1106.6 C1100.2,1106.6 1102.1,1096.0 1103.8,1093.0 C1105.5,1090.0 1107.4,1088.9 1108.6,1088.9 C1109.8,1089.6 1110.1,1093.6 1111.1,1097.2 C1112.1,1100.8 1113.4,1110.8 1114.8,1110.8 C1116.2,1109.8 1117.9,1104.8 1119.4,1091.0 C1120.9,1077.2 1122.2,1050.9 1123.6,1028.3 C1125.0,1005.7 1126.4,977.4 1127.8,955.3 C1129.2,933.2 1130.8,899.3 1132.0,895.8 C1133.2,895.8 1134.1,907.1 1135.1,934.4 C1136.1,961.7 1137.2,1028.3 1138.2,1059.6 C1139.2,1090.9 1139.7,1110.6 1141.4,1122.3 C1143.2,1129.6 1146.5,1128.0 1148.7,1129.6 C1151.0,1131.2 1152.8,1130.8 1154.9,1131.7 C1157.0,1132.6 1159.1,1134.8 1161.2,1134.8 C1163.3,1134.6 1165.2,1132.9 1167.5,1130.6 C1169.8,1128.3 1172.7,1124.2 1174.8,1121.2 C1176.9,1118.2 1178.7,1114.2 1180.0,1112.5 C1181.3,1110.8 1181.7,1110.7 1182.7,1110.7 C1183.8,1111.3 1185.1,1111.6 1186.3,1116.1 C1187.5,1120.6 1188.6,1130.3 1189.9,1137.7 C1191.2,1145.1 1189.9,1156.5 1194.4,1160.2 C1209.3,1160.2 1262.0,1160.2 1279.1,1160.1 C1296.2,1159.7 1290.9,1158.7 1297.1,1157.8 C1303.2,1156.9 1311.8,1156.3 1316.0,1154.8 C1320.2,1153.2 1320.0,1151.2 1322.3,1148.5 C1324.5,1145.8 1326.2,1142.6 1329.5,1138.6 C1332.8,1134.5 1338.5,1128.8 1342.1,1124.2 C1345.7,1119.6 1348.4,1116.6 1351.1,1110.7 C1353.8,1104.8 1356.5,1097.2 1358.3,1089.1 C1360.1,1081.0 1360.9,1072.5 1361.9,1062.0 C1363.0,1051.5 1363.6,1035.6 1364.6,1026.0 C1365.6,1016.4 1366.5,1004.4 1367.7,1004.4 C1368.9,1005.0 1370.4,1020.0 1371.8,1029.6 C1373.2,1039.2 1374.9,1054.3 1376.3,1062.0 C1377.7,1069.7 1378.4,1072.6 1379.9,1075.6 C1381.4,1078.6 1383.8,1077.5 1385.3,1080.1 C1386.8,1082.6 1387.9,1088.1 1388.9,1090.9 C1390.0,1093.8 1390.5,1097.2 1391.6,1097.2 C1392.6,1094.8 1394.1,1081.8 1395.2,1076.5 C1396.3,1071.2 1397.1,1065.6 1398.3,1065.6 C1399.5,1067.1 1401.1,1079.8 1402.4,1085.5 C1403.7,1091.2 1404.8,1096.9 1406.0,1099.9 C1407.2,1102.9 1408.2,1103.5 1409.6,1103.5 C1411.0,1102.9 1412.2,1099.8 1414.2,1096.3 C1416.2,1092.8 1419.6,1085.5 1421.4,1082.8 C1423.2,1080.1 1423.7,1080.1 1425.0,1080.1 C1426.3,1081.6 1428.0,1090.9 1429.5,1091.8 C1431.0,1091.8 1432.7,1085.5 1434.0,1085.5 C1435.3,1085.5 1436.1,1090.9 1437.6,1091.8 C1439.1,1091.8 1442.1,1091.1 1443.0,1090.9" fill="none" stroke="#E41A1C" stroke-width="2.00" stroke-linejoin="round" stroke-linecap="round"/>
<path d="M1006.7,1159.9 C1007.1,1146.7 1008.1,1113.9 1008.8,1080.5 C1009.5,1047.1 1010.0,980.3 1010.9,959.4 C1011.8,955.3 1013.1,959.4 1014.0,955.3 C1014.9,944.2 1015.6,912.3 1016.1,892.6 C1016.6,872.9 1016.6,846.5 1017.1,837.3 C1017.6,837.3 1018.5,837.3 1019.2,837.3 C1019.9,860.4 1020.6,935.6 1021.3,976.1 C1022.0,1016.6 1022.6,1056.0 1023.4,1080.5 C1024.2,1105.0 1025.0,1123.3 1025.9,1123.3 C1026.8,1123.3 1027.8,1108.5 1028.6,1080.5 C1029.4,1052.5 1030.0,995.8 1030.7,955.3 C1031.4,914.8 1032.2,857.0 1032.8,837.3 C1033.4,837.3 1033.8,837.3 1034.3,837.3 C1034.8,847.9 1035.3,893.2 1035.9,901.0 C1036.5,901.0 1037.3,884.3 1038.0,884.3 C1038.7,884.6 1039.2,885.4 1040.1,903.1 C1041.0,920.9 1042.3,975.8 1043.2,990.8 C1044.1,992.8 1044.6,990.8 1045.3,992.8 C1046.0,1005.1 1046.6,1055.2 1047.4,1064.9 C1048.2,1064.9 1049.2,1051.3 1050.1,1051.3 C1051.0,1053.2 1051.5,1069.5 1052.6,1076.3 C1053.6,1083.1 1055.2,1091.3 1056.4,1092.0 C1057.6,1092.0 1058.4,1092.0 1059.9,1080.5 C1061.4,1064.3 1063.7,1012.3 1065.2,994.9 C1066.7,977.5 1067.5,976.5 1068.9,976.1 C1070.3,976.1 1072.0,982.7 1073.5,992.8 C1075.0,1002.9 1076.3,1026.1 1077.7,1036.7 C1079.1,1047.3 1080.5,1052.7 1081.9,1056.5 C1083.3,1059.6 1084.7,1056.5 1086.0,1059.6 C1087.3,1062.9 1088.6,1068.5 1089.8,1076.3 C1091.0,1084.1 1092.0,1103.8 1093.3,1106.6 C1094.6,1106.6 1096.3,1095.6 1097.5,1093.0 C1098.7,1091.0 1099.6,1093.0 1100.6,1091.0 C1101.6,1088.2 1102.4,1076.3 1103.4,1076.3 C1104.5,1078.0 1105.8,1098.6 1106.9,1101.4 C1108.0,1101.4 1108.8,1101.4 1110.0,1093.0 C1111.2,1079.1 1113.0,1044.3 1114.2,1017.9 C1115.4,991.5 1116.4,964.5 1117.3,934.4 C1118.2,904.3 1118.6,853.5 1119.4,837.3 C1120.2,837.3 1121.2,837.3 1121.9,837.3 C1122.6,857.0 1123.0,918.2 1123.6,955.3 C1124.2,992.3 1124.8,1031.8 1125.7,1059.6 C1126.6,1087.4 1127.4,1110.8 1128.8,1122.3 C1130.2,1128.5 1132.1,1127.5 1134.0,1128.5 C1135.9,1128.5 1137.8,1128.5 1140.3,1128.5 C1142.8,1129.2 1145.9,1131.8 1148.7,1132.7 C1151.5,1133.6 1154.6,1133.8 1157.0,1133.8 C1159.4,1131.0 1161.7,1118.8 1163.3,1116.0 C1164.9,1116.0 1165.3,1117.1 1166.4,1117.1 C1167.5,1114.7 1168.8,1104.0 1170.0,1101.4 C1171.2,1101.4 1172.7,1101.4 1173.7,1101.4 C1174.7,1104.2 1175.1,1110.4 1175.8,1118.1 C1176.5,1125.8 1177.2,1140.3 1177.9,1147.3 C1178.6,1154.3 1177.9,1158.0 1180.0,1160.2 C1209.5,1160.2 1323.2,1160.2 1354.7,1160.2 C1369.1,1159.8 1365.8,1160.2 1369.1,1158.0 C1372.4,1155.5 1372.1,1149.8 1374.5,1144.9 C1376.9,1140.0 1380.3,1135.3 1383.5,1128.7 C1386.7,1122.1 1391.3,1112.2 1393.4,1105.3 C1395.5,1098.4 1395.2,1097.5 1396.1,1087.3 C1397.0,1077.1 1397.9,1057.2 1398.8,1044.0 C1399.7,1030.8 1400.4,1020.2 1401.2,1008.0 C1402.0,995.8 1402.9,975.6 1403.6,970.6 C1404.3,970.6 1404.8,976.5 1405.5,978.0 C1406.2,979.5 1407.3,978.0 1408.0,979.9 C1408.7,981.9 1408.9,984.7 1409.6,990.0 C1410.3,995.3 1411.4,1006.8 1412.3,1011.6 C1413.2,1016.4 1414.0,1014.6 1415.0,1018.8 C1416.0,1023.0 1417.5,1028.4 1418.6,1036.8 C1419.7,1045.2 1420.6,1061.2 1421.4,1069.3 C1422.2,1077.4 1422.6,1085.5 1423.2,1085.5 C1423.8,1084.3 1424.5,1072.8 1425.3,1062.0 C1426.0,1051.2 1426.7,1023.6 1427.7,1020.6 C1428.7,1020.6 1430.2,1034.1 1431.3,1044.0 C1432.3,1053.9 1433.1,1069.3 1434.0,1080.1 C1434.9,1090.9 1435.7,1103.5 1436.7,1108.9 C1437.8,1112.5 1439.2,1109.5 1440.3,1112.5 C1441.3,1115.5 1442.5,1124.5 1443.0,1126.9" fill="none" stroke="#1F6FD2" stroke-width="2.00" stroke-linejoin="round" stroke-linecap="round"/>
<path d="M1023.9,1160.2 C1024.3,1163.5 1025.5,1170.9 1026.2,1179.9 C1027.0,1188.9 1027.5,1208.7 1028.4,1214.3 C1029.3,1214.3 1030.4,1213.5 1031.4,1213.5 C1032.4,1214.5 1033.3,1217.0 1034.4,1220.3 C1035.5,1223.5 1036.6,1231.3 1038.1,1233.0 C1039.6,1233.0 1041.8,1230.7 1043.4,1230.7 C1045.0,1231.5 1046.3,1235.0 1047.8,1237.5 C1049.3,1240.0 1050.9,1241.2 1052.3,1245.7 C1053.7,1250.2 1054.8,1264.4 1056.1,1264.4 C1057.3,1264.3 1058.4,1248.4 1059.8,1244.9 C1061.2,1243.4 1062.7,1243.4 1064.3,1243.4 C1065.9,1244.8 1067.9,1248.8 1069.5,1253.2 C1071.1,1257.6 1072.6,1265.5 1074.0,1269.6 C1075.4,1273.7 1076.7,1276.3 1077.7,1277.8 C1078.7,1278.6 1079.2,1277.8 1080.0,1278.6 C1080.8,1282.7 1081.7,1302.2 1082.7,1302.5 C1083.7,1302.5 1085.1,1284.8 1086.0,1280.1 C1086.9,1275.4 1087.5,1274.1 1088.2,1274.1 C1088.9,1277.3 1089.7,1288.0 1090.4,1299.5 C1091.1,1311.0 1091.6,1342.2 1092.4,1342.9 C1093.2,1342.9 1094.5,1310.0 1095.4,1304.0 C1096.3,1304.0 1097.1,1307.0 1097.9,1307.0 C1098.7,1306.5 1099.1,1307.0 1100.2,1301.0 C1101.3,1294.3 1103.4,1278.1 1104.6,1266.6 C1105.8,1255.1 1106.5,1241.7 1107.3,1232.2 C1108.0,1222.7 1108.4,1209.8 1109.1,1209.8 C1109.8,1211.0 1110.8,1222.3 1111.4,1239.7 C1112.0,1257.1 1112.4,1292.0 1112.9,1314.4 C1113.5,1336.8 1113.8,1373.0 1114.7,1374.2 C1115.6,1374.2 1116.9,1336.9 1118.1,1321.9 C1119.3,1307.0 1120.7,1298.2 1121.8,1284.5 C1122.9,1270.8 1123.9,1251.4 1124.8,1239.7 C1125.7,1228.0 1126.3,1219.3 1127.1,1214.3 C1127.8,1209.8 1128.4,1210.5 1129.3,1209.8 C1130.2,1209.8 1131.3,1209.8 1132.3,1209.8 C1133.3,1208.7 1134.4,1204.1 1135.3,1203.1 C1136.2,1203.1 1137.0,1203.8 1137.8,1203.8 C1138.5,1201.9 1139.1,1197.1 1139.8,1191.9 C1140.5,1186.7 1141.3,1177.7 1142.0,1172.4 C1142.7,1167.1 1142.0,1162.2 1143.8,1160.2 C1156.6,1160.2 1206.1,1160.2 1218.8,1160.2 C1219.9,1165.5 1219.5,1172.5 1219.9,1191.7 C1220.3,1210.9 1220.8,1242.5 1221.3,1275.2 C1221.8,1307.9 1222.1,1384.3 1222.6,1387.8 C1223.0,1387.8 1223.5,1328.7 1224.0,1296.0 C1224.5,1263.3 1225.2,1214.0 1225.7,1191.7 C1226.2,1169.5 1226.7,1162.5 1227.2,1162.5 C1227.7,1166.0 1228.2,1183.4 1228.8,1212.6 C1229.4,1241.8 1230.1,1302.3 1230.9,1337.8 C1231.7,1373.3 1232.5,1410.5 1233.4,1425.4 C1234.3,1427.5 1235.6,1427.5 1236.5,1427.5 C1237.4,1423.3 1237.7,1413.6 1238.6,1400.4 C1239.5,1387.2 1240.7,1360.7 1241.8,1348.2 C1242.9,1335.7 1244.2,1325.3 1245.3,1325.3 C1246.4,1325.3 1247.4,1336.4 1248.4,1348.2 C1249.4,1360.0 1250.4,1396.2 1251.2,1396.2 C1252.0,1391.0 1252.5,1340.6 1253.2,1316.9 C1253.9,1293.2 1254.4,1269.2 1255.3,1254.3 C1256.2,1239.3 1257.3,1233.1 1258.5,1227.2 C1259.7,1221.3 1261.4,1221.9 1262.6,1218.9 C1263.8,1216.0 1264.6,1210.9 1265.8,1209.5 C1267.0,1209.5 1268.1,1210.5 1269.9,1210.5 C1271.7,1209.8 1274.7,1205.3 1276.6,1205.3 C1278.5,1206.3 1279.8,1212.4 1281.4,1216.8 C1283.0,1221.2 1284.8,1231.1 1286.0,1231.4 C1287.2,1231.4 1287.8,1221.7 1288.7,1218.9 C1289.6,1216.1 1290.4,1218.9 1291.4,1214.7 C1292.5,1208.4 1294.1,1190.4 1295.0,1181.3 C1295.9,1172.2 1295.0,1163.7 1297.0,1160.2 C1306.8,1160.2 1342.1,1160.2 1353.6,1160.3 C1365.1,1160.6 1362.5,1160.3 1366.0,1161.8 C1369.5,1164.7 1371.6,1172.5 1374.7,1177.4 C1377.8,1182.3 1381.8,1186.3 1384.7,1191.1 C1387.6,1195.9 1390.4,1201.3 1392.2,1206.1 C1394.0,1210.9 1394.5,1212.5 1395.3,1219.8 C1396.1,1227.1 1396.5,1237.5 1397.2,1249.7 C1397.9,1262.0 1398.8,1278.8 1399.7,1293.3 C1400.6,1307.8 1401.5,1331.5 1402.4,1336.9 C1403.3,1336.9 1404.3,1327.4 1405.3,1325.7 C1406.3,1325.7 1407.5,1326.9 1408.4,1326.9 C1409.3,1321.9 1410.0,1301.6 1410.9,1295.8 C1411.8,1292.0 1412.8,1295.8 1414.0,1292.0 C1415.2,1287.4 1417.0,1279.2 1418.4,1268.4 C1419.9,1257.6 1421.6,1232.4 1422.7,1227.2 C1423.8,1227.2 1424.1,1227.2 1425.2,1237.2 C1426.3,1250.1 1428.2,1296.2 1429.6,1304.5 C1430.9,1304.5 1432.2,1301.3 1433.3,1287.0 C1434.4,1272.7 1435.4,1232.4 1436.4,1218.5 C1437.4,1204.6 1438.6,1206.7 1439.5,1203.6 C1440.4,1200.5 1441.4,1202.1 1442.0,1199.8 C1442.6,1197.5 1443.1,1191.6 1443.3,1189.9" fill="none" stroke="#0A0AE6" stroke-width="2.00" stroke-linejoin="round" stroke-linecap="round"/>
</g>
<line x1="866.7" y1="1160.2" x2="1489.6" y2="1160.2" stroke="#000" stroke-width="2.40"/>
<line x1="1178.2" y1="836.7" x2="1178.2" y2="1483.6" stroke="#000" stroke-width="2.40"/>
<line x1="1276.7" y1="1408.4" x2="1343.4" y2="1408.4" stroke="#E41A1C" stroke-width="2.10"/>
<line x1="1276.7" y1="1448.6" x2="1343.4" y2="1448.6" stroke="#1F6FD2" stroke-width="2.10"/>
<text x="1350.9" y="0" transform="translate(0,1418.3) scale(1,1.100)" text-anchor="start" font-size="28.2" >GGA</text>
<text x="1350.9" y="0" transform="translate(0,1458.1) scale(1,1.100)" text-anchor="start" font-size="28.2" >GGA+mBJ</text>
<text x="1207.0" y="0" transform="translate(0,872.5) scale(1,1.080)" text-anchor="start" font-size="35.3" >(d)</text>
<text x="1292.5" y="0" transform="translate(0,874.2) scale(1,1.080)" font-size="35.3">SrBkO<tspan font-size="25" dy="10">3</tspan></text>
<line x1="902.6" y1="1003.8" x2="901.1" y2="933.7" stroke="#E97F33" stroke-width="4.20"/>
<polygon points="900.8,917.7 909.6,933.5 892.6,933.9" fill="#E97F33"/>
<line x1="933.4" y1="1272.5" x2="933.4" y2="1360.3" stroke="#E97F33" stroke-width="4.20"/>
<polygon points="933.4,1376.3 924.9,1360.3 941.9,1360.3" fill="#E97F33"/>
</svg></body></html>
